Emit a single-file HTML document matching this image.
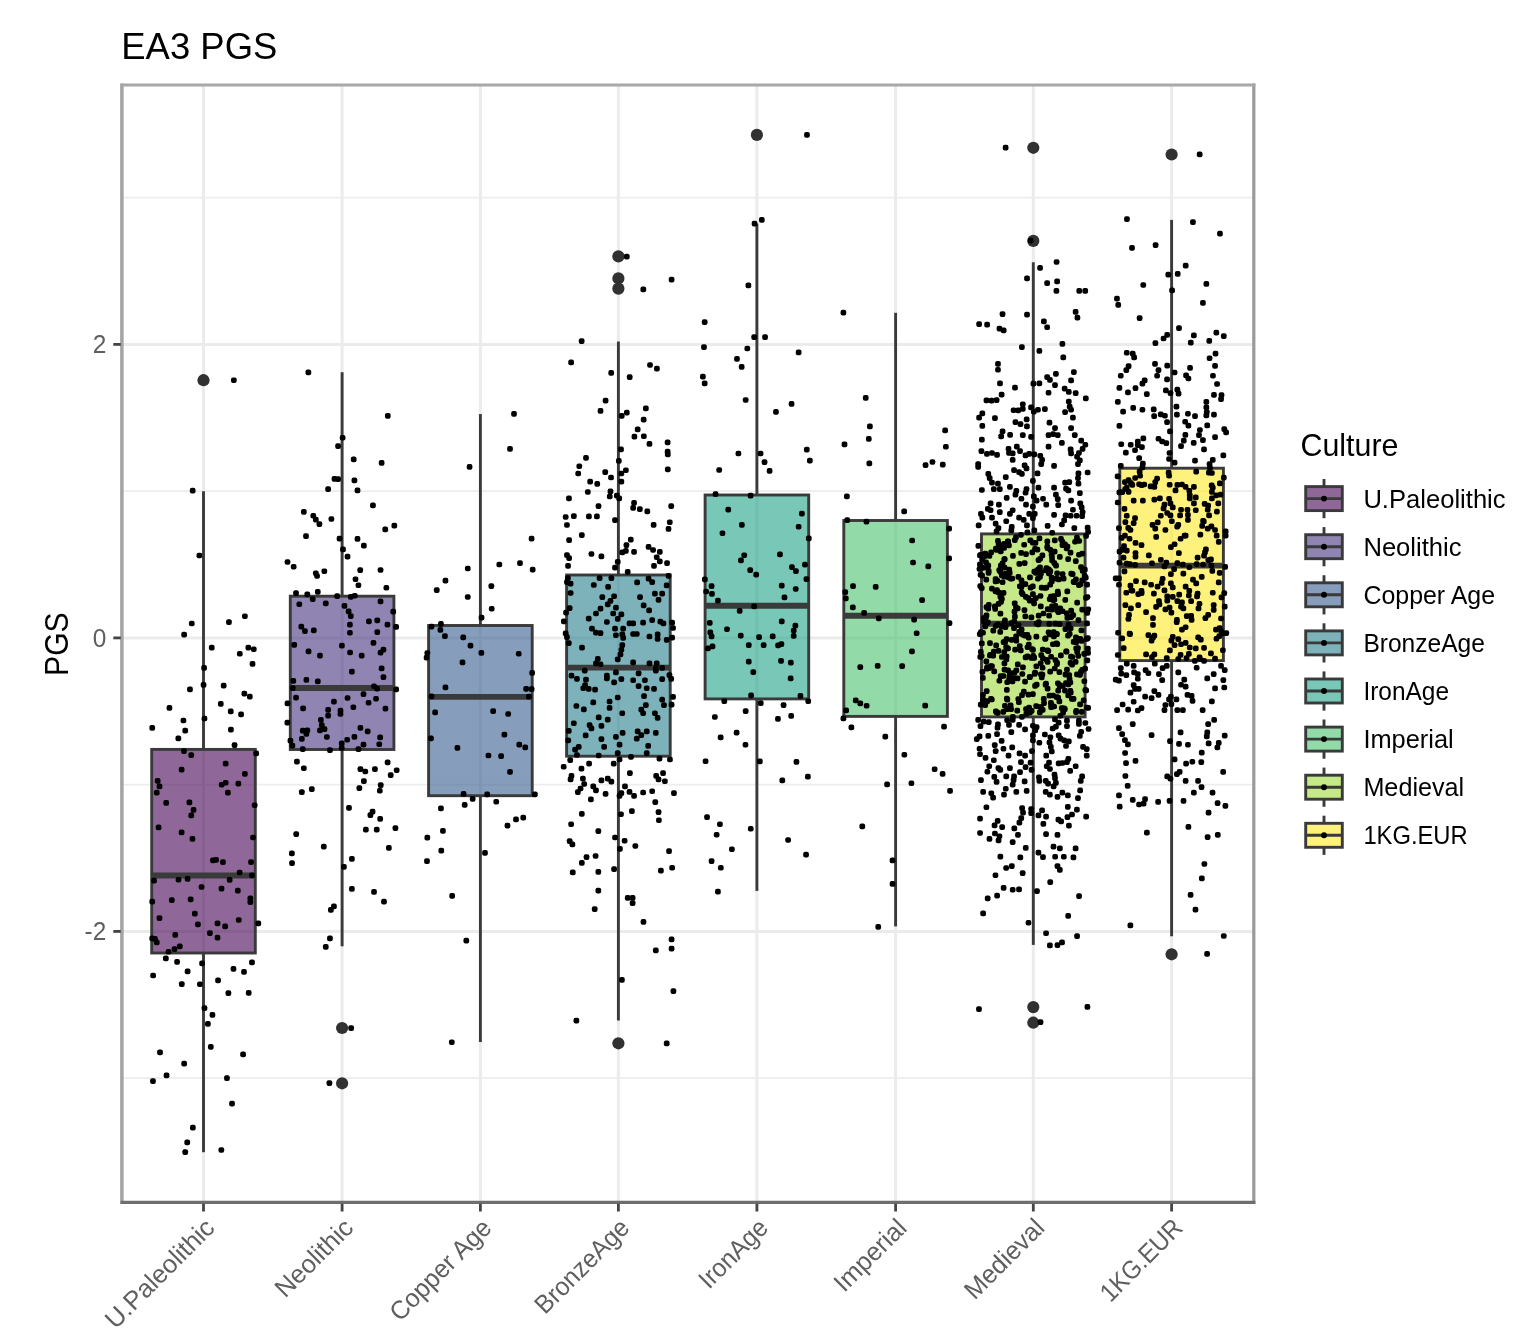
<!DOCTYPE html>
<html lang="en"><head><meta charset="utf-8"><title>EA3 PGS</title>
<style>html,body{margin:0;padding:0;background:#fff}svg{display:block}text{font-family:"Liberation Sans",Arial,Helvetica,sans-serif}</style>
</head><body>
<svg width="1522" height="1342" viewBox="0 0 1522 1342">
<rect width="1522" height="1342" fill="#fff"/>
<text x="121.3" y="59.4" font-size="37.6" fill="#000" textLength="156" lengthAdjust="spacingAndGlyphs">EA3 PGS</text>
<g stroke="#EDEDED" stroke-width="1.7">
<line x1="122.2" x2="1253.8" y1="197.6" y2="197.6"/>
<line x1="122.2" x2="1253.8" y1="491.1" y2="491.1"/>
<line x1="122.2" x2="1253.8" y1="784.6" y2="784.6"/>
<line x1="122.2" x2="1253.8" y1="1078.2" y2="1078.2"/>
</g>
<g stroke="#EBEBEB" stroke-width="3">
<line x1="122.2" x2="1253.8" y1="344.4" y2="344.4"/>
<line x1="122.2" x2="1253.8" y1="637.9" y2="637.9"/>
<line x1="122.2" x2="1253.8" y1="931.4" y2="931.4"/>
<line x1="203.5" x2="203.5" y1="85.0" y2="1202.4"/>
<line x1="342.1" x2="342.1" y1="85.0" y2="1202.4"/>
<line x1="480.4" x2="480.4" y1="85.0" y2="1202.4"/>
<line x1="618.4" x2="618.4" y1="85.0" y2="1202.4"/>
<line x1="756.9" x2="756.9" y1="85.0" y2="1202.4"/>
<line x1="895.6" x2="895.6" y1="85.0" y2="1202.4"/>
<line x1="1033.3" x2="1033.3" y1="85.0" y2="1202.4"/>
<line x1="1171.6" x2="1171.6" y1="85.0" y2="1202.4"/>
</g>
<g stroke="#3A3A3A" stroke-width="2.9" fill="none">
<circle cx="203.5" cy="380.2" r="6.1" fill="#313131" stroke="none"/>
<line x1="203.5" x2="203.5" y1="491.3" y2="749.4"/>
<line x1="203.5" x2="203.5" y1="953.0" y2="1152.2"/>
<rect x="151.7" y="749.4" width="103.6" height="203.6" fill="#440154" fill-opacity="0.6"/>
<line x1="151.7" x2="255.3" y1="875.5" y2="875.5" stroke-width="5.9"/>
</g>
<g stroke="#3A3A3A" stroke-width="2.9" fill="none">
<circle cx="342.1" cy="1028.0" r="6.1" fill="#313131" stroke="none"/>
<circle cx="342.1" cy="1083.3" r="6.1" fill="#313131" stroke="none"/>
<line x1="342.1" x2="342.1" y1="372.2" y2="596.2"/>
<line x1="342.1" x2="342.1" y1="749.5" y2="946.3"/>
<rect x="290.3" y="596.2" width="103.6" height="153.3" fill="#46337E" fill-opacity="0.6"/>
<line x1="290.3" x2="393.9" y1="688.0" y2="688.0" stroke-width="5.9"/>
</g>
<g stroke="#3A3A3A" stroke-width="2.9" fill="none">
<line x1="480.4" x2="480.4" y1="414.1" y2="625.5"/>
<line x1="480.4" x2="480.4" y1="795.7" y2="1042.0"/>
<rect x="428.6" y="625.5" width="103.6" height="170.2" fill="#365C8D" fill-opacity="0.6"/>
<line x1="428.6" x2="532.2" y1="696.9" y2="696.9" stroke-width="5.9"/>
</g>
<g stroke="#3A3A3A" stroke-width="2.9" fill="none">
<circle cx="618.4" cy="256.4" r="6.1" fill="#313131" stroke="none"/>
<circle cx="618.4" cy="278.4" r="6.1" fill="#313131" stroke="none"/>
<circle cx="618.4" cy="288.6" r="6.1" fill="#313131" stroke="none"/>
<circle cx="618.4" cy="1043.3" r="6.1" fill="#313131" stroke="none"/>
<line x1="618.4" x2="618.4" y1="341.5" y2="575.0"/>
<line x1="618.4" x2="618.4" y1="756.2" y2="1020.5"/>
<rect x="566.6" y="575.0" width="103.6" height="181.2" fill="#277F8E" fill-opacity="0.6"/>
<line x1="566.6" x2="670.2" y1="667.6" y2="667.6" stroke-width="5.9"/>
</g>
<g stroke="#3A3A3A" stroke-width="2.9" fill="none">
<circle cx="756.9" cy="134.9" r="6.1" fill="#313131" stroke="none"/>
<line x1="756.9" x2="756.9" y1="223.4" y2="495.0"/>
<line x1="756.9" x2="756.9" y1="698.9" y2="890.9"/>
<rect x="705.1" y="495.0" width="103.6" height="203.9" fill="#1FA187" fill-opacity="0.6"/>
<line x1="705.1" x2="808.7" y1="605.8" y2="605.8" stroke-width="5.9"/>
</g>
<g stroke="#3A3A3A" stroke-width="2.9" fill="none">
<line x1="895.6" x2="895.6" y1="312.8" y2="520.5"/>
<line x1="895.6" x2="895.6" y1="716.4" y2="926.4"/>
<rect x="843.8" y="520.5" width="103.6" height="195.9" fill="#4AC16D" fill-opacity="0.6"/>
<line x1="843.8" x2="947.4" y1="615.7" y2="615.7" stroke-width="5.9"/>
</g>
<g stroke="#3A3A3A" stroke-width="2.9" fill="none">
<circle cx="1033.3" cy="147.8" r="6.1" fill="#313131" stroke="none"/>
<circle cx="1033.3" cy="240.9" r="6.1" fill="#313131" stroke="none"/>
<circle cx="1033.3" cy="1007.1" r="6.1" fill="#313131" stroke="none"/>
<circle cx="1033.3" cy="1022.7" r="6.1" fill="#313131" stroke="none"/>
<line x1="1033.3" x2="1033.3" y1="262.3" y2="533.9"/>
<line x1="1033.3" x2="1033.3" y1="716.9" y2="944.9"/>
<rect x="981.5" y="533.9" width="103.6" height="183.0" fill="#9FDA3A" fill-opacity="0.6"/>
<line x1="981.5" x2="1085.1" y1="623.8" y2="623.8" stroke-width="5.9"/>
</g>
<g stroke="#3A3A3A" stroke-width="2.9" fill="none">
<circle cx="1171.6" cy="154.5" r="6.1" fill="#313131" stroke="none"/>
<circle cx="1171.6" cy="954.3" r="6.1" fill="#313131" stroke="none"/>
<line x1="1171.6" x2="1171.6" y1="219.9" y2="468.2"/>
<line x1="1171.6" x2="1171.6" y1="660.6" y2="936.3"/>
<rect x="1119.8" y="468.2" width="103.6" height="192.4" fill="#FDE725" fill-opacity="0.6"/>
<line x1="1119.8" x2="1223.4" y1="565.6" y2="565.6" stroke-width="5.9"/>
</g>
<g fill="#000">
<rect x="1077.11" y="672.15" width="5.7" height="5.7" rx="2"/><rect x="1040.06" y="655.53" width="5.7" height="5.7" rx="2"/><rect x="1044.74" y="685.77" width="5.7" height="5.7" rx="2"/><rect x="1008.82" y="637.03" width="5.7" height="5.7" rx="2"/><rect x="985.42" y="562.84" width="5.7" height="5.7" rx="2"/><rect x="980.06" y="697.28" width="5.7" height="5.7" rx="2"/><rect x="1047.38" y="581.79" width="5.7" height="5.7" rx="2"/><rect x="977.10" y="561.59" width="5.7" height="5.7" rx="2"/>
<rect x="1033.57" y="568.24" width="5.7" height="5.7" rx="2"/><rect x="1002.06" y="702.94" width="5.7" height="5.7" rx="2"/><rect x="978.76" y="653.14" width="5.7" height="5.7" rx="2"/><rect x="1068.12" y="653.78" width="5.7" height="5.7" rx="2"/><rect x="1030.43" y="597.71" width="5.7" height="5.7" rx="2"/><rect x="1006.05" y="542.57" width="5.7" height="5.7" rx="2"/><rect x="1067.87" y="614.36" width="5.7" height="5.7" rx="2"/><rect x="1000.71" y="590.03" width="5.7" height="5.7" rx="2"/>
<rect x="1059.74" y="608.38" width="5.7" height="5.7" rx="2"/><rect x="1019.49" y="671.15" width="5.7" height="5.7" rx="2"/><rect x="1080.83" y="697.39" width="5.7" height="5.7" rx="2"/><rect x="998.52" y="623.52" width="5.7" height="5.7" rx="2"/><rect x="1075.58" y="617.28" width="5.7" height="5.7" rx="2"/><rect x="1019.17" y="692.22" width="5.7" height="5.7" rx="2"/><rect x="1061.09" y="705.59" width="5.7" height="5.7" rx="2"/><rect x="1012.03" y="613.77" width="5.7" height="5.7" rx="2"/>
<rect x="1081.50" y="678.41" width="5.7" height="5.7" rx="2"/><rect x="1002.55" y="624.38" width="5.7" height="5.7" rx="2"/><rect x="986.57" y="553.09" width="5.7" height="5.7" rx="2"/><rect x="994.99" y="709.95" width="5.7" height="5.7" rx="2"/><rect x="996.43" y="567.19" width="5.7" height="5.7" rx="2"/><rect x="1046.26" y="612.79" width="5.7" height="5.7" rx="2"/><rect x="988.27" y="549.57" width="5.7" height="5.7" rx="2"/><rect x="1005.13" y="538.52" width="5.7" height="5.7" rx="2"/>
<rect x="1082.25" y="665.76" width="5.7" height="5.7" rx="2"/><rect x="1072.79" y="658.98" width="5.7" height="5.7" rx="2"/><rect x="1069.43" y="654.13" width="5.7" height="5.7" rx="2"/><rect x="1084.27" y="581.76" width="5.7" height="5.7" rx="2"/><rect x="998.91" y="572.45" width="5.7" height="5.7" rx="2"/><rect x="1011.64" y="608.82" width="5.7" height="5.7" rx="2"/><rect x="985.36" y="605.76" width="5.7" height="5.7" rx="2"/><rect x="1039.55" y="671.67" width="5.7" height="5.7" rx="2"/>
<rect x="1016.34" y="629.02" width="5.7" height="5.7" rx="2"/><rect x="1070.77" y="639.05" width="5.7" height="5.7" rx="2"/><rect x="1075.38" y="653.09" width="5.7" height="5.7" rx="2"/><rect x="1065.41" y="692.52" width="5.7" height="5.7" rx="2"/><rect x="1056.79" y="621.23" width="5.7" height="5.7" rx="2"/><rect x="1078.89" y="708.93" width="5.7" height="5.7" rx="2"/><rect x="979.71" y="565.03" width="5.7" height="5.7" rx="2"/><rect x="1081.34" y="651.03" width="5.7" height="5.7" rx="2"/>
<rect x="1003.72" y="636.36" width="5.7" height="5.7" rx="2"/><rect x="1007.73" y="702.57" width="5.7" height="5.7" rx="2"/><rect x="1036.98" y="709.62" width="5.7" height="5.7" rx="2"/><rect x="1069.21" y="661.85" width="5.7" height="5.7" rx="2"/><rect x="1076.36" y="538.15" width="5.7" height="5.7" rx="2"/><rect x="997.89" y="548.59" width="5.7" height="5.7" rx="2"/><rect x="1024.48" y="632.11" width="5.7" height="5.7" rx="2"/><rect x="1016.02" y="699.37" width="5.7" height="5.7" rx="2"/>
<rect x="1038.39" y="652.26" width="5.7" height="5.7" rx="2"/><rect x="1073.45" y="708.04" width="5.7" height="5.7" rx="2"/><rect x="1051.48" y="596.70" width="5.7" height="5.7" rx="2"/><rect x="979.31" y="556.63" width="5.7" height="5.7" rx="2"/><rect x="977.42" y="583.21" width="5.7" height="5.7" rx="2"/><rect x="1045.43" y="648.30" width="5.7" height="5.7" rx="2"/><rect x="1028.50" y="614.43" width="5.7" height="5.7" rx="2"/><rect x="1085.38" y="606.42" width="5.7" height="5.7" rx="2"/>
<rect x="1056.52" y="698.58" width="5.7" height="5.7" rx="2"/><rect x="1076.10" y="551.88" width="5.7" height="5.7" rx="2"/><rect x="1055.55" y="609.24" width="5.7" height="5.7" rx="2"/><rect x="1067.67" y="549.78" width="5.7" height="5.7" rx="2"/><rect x="1028.36" y="655.17" width="5.7" height="5.7" rx="2"/><rect x="1030.15" y="646.97" width="5.7" height="5.7" rx="2"/><rect x="1008.56" y="620.20" width="5.7" height="5.7" rx="2"/><rect x="1050.05" y="641.39" width="5.7" height="5.7" rx="2"/>
<rect x="1075.08" y="645.22" width="5.7" height="5.7" rx="2"/><rect x="1048.05" y="699.98" width="5.7" height="5.7" rx="2"/><rect x="1064.11" y="666.73" width="5.7" height="5.7" rx="2"/><rect x="1030.06" y="591.18" width="5.7" height="5.7" rx="2"/><rect x="1067.53" y="688.01" width="5.7" height="5.7" rx="2"/><rect x="994.05" y="587.22" width="5.7" height="5.7" rx="2"/><rect x="999.00" y="654.14" width="5.7" height="5.7" rx="2"/><rect x="1067.75" y="625.49" width="5.7" height="5.7" rx="2"/>
<rect x="983.66" y="604.19" width="5.7" height="5.7" rx="2"/><rect x="980.01" y="675.08" width="5.7" height="5.7" rx="2"/><rect x="1009.44" y="575.64" width="5.7" height="5.7" rx="2"/><rect x="990.40" y="627.82" width="5.7" height="5.7" rx="2"/><rect x="1025.48" y="595.21" width="5.7" height="5.7" rx="2"/><rect x="1001.56" y="660.43" width="5.7" height="5.7" rx="2"/><rect x="1044.66" y="647.57" width="5.7" height="5.7" rx="2"/><rect x="1024.56" y="653.50" width="5.7" height="5.7" rx="2"/>
<rect x="1027.72" y="584.78" width="5.7" height="5.7" rx="2"/><rect x="995.11" y="538.08" width="5.7" height="5.7" rx="2"/><rect x="1054.01" y="631.31" width="5.7" height="5.7" rx="2"/><rect x="1013.48" y="667.54" width="5.7" height="5.7" rx="2"/><rect x="1043.04" y="567.52" width="5.7" height="5.7" rx="2"/><rect x="1062.56" y="626.24" width="5.7" height="5.7" rx="2"/><rect x="1078.04" y="669.11" width="5.7" height="5.7" rx="2"/><rect x="1054.91" y="588.76" width="5.7" height="5.7" rx="2"/>
<rect x="1047.10" y="569.01" width="5.7" height="5.7" rx="2"/><rect x="1065.47" y="681.62" width="5.7" height="5.7" rx="2"/><rect x="1083.30" y="687.46" width="5.7" height="5.7" rx="2"/><rect x="1062.44" y="597.09" width="5.7" height="5.7" rx="2"/><rect x="984.55" y="698.37" width="5.7" height="5.7" rx="2"/><rect x="1059.96" y="683.16" width="5.7" height="5.7" rx="2"/><rect x="1064.46" y="588.49" width="5.7" height="5.7" rx="2"/><rect x="982.50" y="623.52" width="5.7" height="5.7" rx="2"/>
<rect x="1012.30" y="646.70" width="5.7" height="5.7" rx="2"/><rect x="1062.12" y="541.47" width="5.7" height="5.7" rx="2"/><rect x="1032.27" y="669.81" width="5.7" height="5.7" rx="2"/><rect x="1055.04" y="680.38" width="5.7" height="5.7" rx="2"/><rect x="1079.86" y="568.14" width="5.7" height="5.7" rx="2"/><rect x="1033.38" y="703.21" width="5.7" height="5.7" rx="2"/><rect x="1007.37" y="670.32" width="5.7" height="5.7" rx="2"/><rect x="1032.96" y="595.30" width="5.7" height="5.7" rx="2"/>
<rect x="1068.43" y="570.73" width="5.7" height="5.7" rx="2"/><rect x="1069.03" y="696.10" width="5.7" height="5.7" rx="2"/><rect x="1081.98" y="566.73" width="5.7" height="5.7" rx="2"/><rect x="997.56" y="594.13" width="5.7" height="5.7" rx="2"/><rect x="1042.03" y="585.07" width="5.7" height="5.7" rx="2"/><rect x="1032.21" y="683.08" width="5.7" height="5.7" rx="2"/><rect x="1051.46" y="560.30" width="5.7" height="5.7" rx="2"/><rect x="1020.97" y="688.82" width="5.7" height="5.7" rx="2"/>
<rect x="1005.06" y="538.66" width="5.7" height="5.7" rx="2"/><rect x="1023.15" y="551.29" width="5.7" height="5.7" rx="2"/><rect x="1065.18" y="632.81" width="5.7" height="5.7" rx="2"/><rect x="1043.42" y="584.72" width="5.7" height="5.7" rx="2"/><rect x="1077.23" y="701.59" width="5.7" height="5.7" rx="2"/><rect x="1000.45" y="709.12" width="5.7" height="5.7" rx="2"/><rect x="1051.02" y="633.66" width="5.7" height="5.7" rx="2"/><rect x="1043.62" y="565.35" width="5.7" height="5.7" rx="2"/>
<rect x="1033.79" y="620.64" width="5.7" height="5.7" rx="2"/><rect x="1023.50" y="710.96" width="5.7" height="5.7" rx="2"/><rect x="997.92" y="542.31" width="5.7" height="5.7" rx="2"/><rect x="1044.89" y="606.28" width="5.7" height="5.7" rx="2"/><rect x="1056.93" y="682.30" width="5.7" height="5.7" rx="2"/><rect x="1064.61" y="543.65" width="5.7" height="5.7" rx="2"/><rect x="1010.10" y="553.12" width="5.7" height="5.7" rx="2"/><rect x="1085.27" y="705.10" width="5.7" height="5.7" rx="2"/>
<rect x="1073.08" y="576.58" width="5.7" height="5.7" rx="2"/><rect x="1055.37" y="687.79" width="5.7" height="5.7" rx="2"/><rect x="1003.99" y="695.74" width="5.7" height="5.7" rx="2"/><rect x="997.55" y="610.79" width="5.7" height="5.7" rx="2"/><rect x="1050.51" y="597.38" width="5.7" height="5.7" rx="2"/><rect x="1050.88" y="629.16" width="5.7" height="5.7" rx="2"/><rect x="987.13" y="640.35" width="5.7" height="5.7" rx="2"/><rect x="979.57" y="669.06" width="5.7" height="5.7" rx="2"/>
<rect x="1038.01" y="568.93" width="5.7" height="5.7" rx="2"/><rect x="997.88" y="673.37" width="5.7" height="5.7" rx="2"/><rect x="1067.87" y="689.90" width="5.7" height="5.7" rx="2"/><rect x="985.93" y="602.06" width="5.7" height="5.7" rx="2"/><rect x="1011.40" y="675.41" width="5.7" height="5.7" rx="2"/><rect x="1022.76" y="654.59" width="5.7" height="5.7" rx="2"/><rect x="1052.56" y="603.11" width="5.7" height="5.7" rx="2"/><rect x="1068.32" y="607.83" width="5.7" height="5.7" rx="2"/>
<rect x="1056.78" y="683.38" width="5.7" height="5.7" rx="2"/><rect x="993.61" y="546.96" width="5.7" height="5.7" rx="2"/><rect x="1031.83" y="671.03" width="5.7" height="5.7" rx="2"/><rect x="1063.64" y="648.69" width="5.7" height="5.7" rx="2"/><rect x="1044.68" y="545.30" width="5.7" height="5.7" rx="2"/><rect x="1063.98" y="610.54" width="5.7" height="5.7" rx="2"/><rect x="1057.34" y="605.46" width="5.7" height="5.7" rx="2"/><rect x="1020.07" y="664.51" width="5.7" height="5.7" rx="2"/>
<rect x="1059.63" y="542.24" width="5.7" height="5.7" rx="2"/><rect x="1027.02" y="674.14" width="5.7" height="5.7" rx="2"/><rect x="1045.71" y="629.41" width="5.7" height="5.7" rx="2"/><rect x="1079.36" y="550.84" width="5.7" height="5.7" rx="2"/><rect x="1048.72" y="551.69" width="5.7" height="5.7" rx="2"/><rect x="1018.31" y="550.10" width="5.7" height="5.7" rx="2"/><rect x="1052.59" y="620.81" width="5.7" height="5.7" rx="2"/><rect x="977.96" y="648.92" width="5.7" height="5.7" rx="2"/>
<rect x="981.00" y="615.22" width="5.7" height="5.7" rx="2"/><rect x="986.28" y="665.19" width="5.7" height="5.7" rx="2"/><rect x="1035.96" y="619.31" width="5.7" height="5.7" rx="2"/><rect x="1037.93" y="603.54" width="5.7" height="5.7" rx="2"/><rect x="1064.50" y="615.01" width="5.7" height="5.7" rx="2"/><rect x="1058.97" y="705.23" width="5.7" height="5.7" rx="2"/><rect x="993.04" y="708.45" width="5.7" height="5.7" rx="2"/><rect x="1029.96" y="539.70" width="5.7" height="5.7" rx="2"/>
<rect x="1042.68" y="635.52" width="5.7" height="5.7" rx="2"/><rect x="1041.21" y="700.22" width="5.7" height="5.7" rx="2"/><rect x="1047.51" y="547.08" width="5.7" height="5.7" rx="2"/><rect x="1037.12" y="704.13" width="5.7" height="5.7" rx="2"/><rect x="1008.01" y="575.92" width="5.7" height="5.7" rx="2"/><rect x="980.16" y="629.89" width="5.7" height="5.7" rx="2"/><rect x="1084.21" y="620.50" width="5.7" height="5.7" rx="2"/><rect x="1079.34" y="577.45" width="5.7" height="5.7" rx="2"/>
<rect x="1082.50" y="687.17" width="5.7" height="5.7" rx="2"/><rect x="1078.55" y="627.47" width="5.7" height="5.7" rx="2"/><rect x="1083.12" y="594.97" width="5.7" height="5.7" rx="2"/><rect x="988.11" y="696.01" width="5.7" height="5.7" rx="2"/><rect x="1033.54" y="633.68" width="5.7" height="5.7" rx="2"/><rect x="989.13" y="663.42" width="5.7" height="5.7" rx="2"/><rect x="1025.56" y="691.69" width="5.7" height="5.7" rx="2"/><rect x="1021.60" y="607.31" width="5.7" height="5.7" rx="2"/>
<rect x="1085.19" y="650.11" width="5.7" height="5.7" rx="2"/><rect x="1001.68" y="556.21" width="5.7" height="5.7" rx="2"/><rect x="1014.96" y="661.57" width="5.7" height="5.7" rx="2"/><rect x="1037.59" y="593.17" width="5.7" height="5.7" rx="2"/><rect x="1002.84" y="622.80" width="5.7" height="5.7" rx="2"/><rect x="1083.22" y="532.99" width="5.7" height="5.7" rx="2"/><rect x="1005.25" y="667.50" width="5.7" height="5.7" rx="2"/><rect x="1022.22" y="632.75" width="5.7" height="5.7" rx="2"/>
<rect x="1035.03" y="575.90" width="5.7" height="5.7" rx="2"/><rect x="983.42" y="576.83" width="5.7" height="5.7" rx="2"/><rect x="1016.50" y="561.05" width="5.7" height="5.7" rx="2"/><rect x="1013.26" y="633.48" width="5.7" height="5.7" rx="2"/><rect x="983.63" y="612.53" width="5.7" height="5.7" rx="2"/><rect x="1003.84" y="653.64" width="5.7" height="5.7" rx="2"/><rect x="1047.35" y="668.76" width="5.7" height="5.7" rx="2"/><rect x="1035.80" y="612.78" width="5.7" height="5.7" rx="2"/>
<rect x="1022.49" y="613.48" width="5.7" height="5.7" rx="2"/><rect x="1071.72" y="579.22" width="5.7" height="5.7" rx="2"/><rect x="984.09" y="665.80" width="5.7" height="5.7" rx="2"/><rect x="1028.78" y="708.04" width="5.7" height="5.7" rx="2"/><rect x="1060.76" y="575.78" width="5.7" height="5.7" rx="2"/><rect x="1048.28" y="704.34" width="5.7" height="5.7" rx="2"/><rect x="984.44" y="664.15" width="5.7" height="5.7" rx="2"/><rect x="1051.79" y="548.68" width="5.7" height="5.7" rx="2"/>
<rect x="1014.81" y="605.49" width="5.7" height="5.7" rx="2"/><rect x="1055.31" y="694.65" width="5.7" height="5.7" rx="2"/><rect x="1053.47" y="575.69" width="5.7" height="5.7" rx="2"/><rect x="1038.07" y="671.39" width="5.7" height="5.7" rx="2"/><rect x="1063.79" y="545.57" width="5.7" height="5.7" rx="2"/><rect x="1019.41" y="580.96" width="5.7" height="5.7" rx="2"/><rect x="1015.66" y="622.32" width="5.7" height="5.7" rx="2"/><rect x="1018.08" y="532.05" width="5.7" height="5.7" rx="2"/>
<rect x="1063.13" y="680.16" width="5.7" height="5.7" rx="2"/><rect x="1037.36" y="555.90" width="5.7" height="5.7" rx="2"/><rect x="977.90" y="701.74" width="5.7" height="5.7" rx="2"/><rect x="1032.17" y="545.93" width="5.7" height="5.7" rx="2"/><rect x="1081.76" y="572.87" width="5.7" height="5.7" rx="2"/><rect x="1062.14" y="687.78" width="5.7" height="5.7" rx="2"/><rect x="1056.53" y="669.30" width="5.7" height="5.7" rx="2"/><rect x="1074.35" y="649.15" width="5.7" height="5.7" rx="2"/>
<rect x="999.70" y="560.62" width="5.7" height="5.7" rx="2"/><rect x="1059.64" y="538.99" width="5.7" height="5.7" rx="2"/><rect x="1018.83" y="589.81" width="5.7" height="5.7" rx="2"/><rect x="1034.56" y="546.82" width="5.7" height="5.7" rx="2"/><rect x="1076.10" y="582.30" width="5.7" height="5.7" rx="2"/><rect x="1073.20" y="709.35" width="5.7" height="5.7" rx="2"/><rect x="1033.07" y="570.12" width="5.7" height="5.7" rx="2"/><rect x="1021.83" y="560.36" width="5.7" height="5.7" rx="2"/>
<rect x="1056.99" y="554.04" width="5.7" height="5.7" rx="2"/><rect x="1084.46" y="657.49" width="5.7" height="5.7" rx="2"/><rect x="997.93" y="562.67" width="5.7" height="5.7" rx="2"/><rect x="1022.19" y="678.85" width="5.7" height="5.7" rx="2"/><rect x="988.08" y="663.28" width="5.7" height="5.7" rx="2"/><rect x="1025.91" y="641.82" width="5.7" height="5.7" rx="2"/><rect x="1039.70" y="664.90" width="5.7" height="5.7" rx="2"/><rect x="987.40" y="652.03" width="5.7" height="5.7" rx="2"/>
<rect x="995.75" y="601.03" width="5.7" height="5.7" rx="2"/><rect x="1054.35" y="641.18" width="5.7" height="5.7" rx="2"/><rect x="995.80" y="541.01" width="5.7" height="5.7" rx="2"/><rect x="1006.37" y="566.78" width="5.7" height="5.7" rx="2"/><rect x="1065.33" y="556.30" width="5.7" height="5.7" rx="2"/><rect x="1073.07" y="634.49" width="5.7" height="5.7" rx="2"/><rect x="1035.66" y="557.29" width="5.7" height="5.7" rx="2"/><rect x="999.76" y="579.42" width="5.7" height="5.7" rx="2"/>
<rect x="1033.48" y="663.40" width="5.7" height="5.7" rx="2"/><rect x="1084.38" y="610.17" width="5.7" height="5.7" rx="2"/><rect x="976.65" y="566.14" width="5.7" height="5.7" rx="2"/><rect x="1027.44" y="537.45" width="5.7" height="5.7" rx="2"/><rect x="992.75" y="578.63" width="5.7" height="5.7" rx="2"/><rect x="1003.99" y="686.93" width="5.7" height="5.7" rx="2"/><rect x="992.02" y="603.58" width="5.7" height="5.7" rx="2"/><rect x="1065.81" y="621.86" width="5.7" height="5.7" rx="2"/>
<rect x="1068.53" y="613.92" width="5.7" height="5.7" rx="2"/><rect x="1005.14" y="645.56" width="5.7" height="5.7" rx="2"/><rect x="1054.27" y="570.38" width="5.7" height="5.7" rx="2"/><rect x="1027.00" y="709.87" width="5.7" height="5.7" rx="2"/><rect x="1069.76" y="571.20" width="5.7" height="5.7" rx="2"/><rect x="1021.32" y="541.88" width="5.7" height="5.7" rx="2"/><rect x="1066.35" y="672.25" width="5.7" height="5.7" rx="2"/><rect x="998.37" y="591.37" width="5.7" height="5.7" rx="2"/>
<rect x="992.78" y="576.37" width="5.7" height="5.7" rx="2"/><rect x="1009.63" y="678.67" width="5.7" height="5.7" rx="2"/><rect x="1026.84" y="674.20" width="5.7" height="5.7" rx="2"/><rect x="1051.03" y="593.13" width="5.7" height="5.7" rx="2"/><rect x="1026.24" y="704.67" width="5.7" height="5.7" rx="2"/><rect x="1047.38" y="568.28" width="5.7" height="5.7" rx="2"/><rect x="1053.55" y="631.18" width="5.7" height="5.7" rx="2"/><rect x="1025.84" y="634.68" width="5.7" height="5.7" rx="2"/>
<rect x="1063.39" y="648.52" width="5.7" height="5.7" rx="2"/><rect x="1007.39" y="671.33" width="5.7" height="5.7" rx="2"/><rect x="1018.59" y="584.25" width="5.7" height="5.7" rx="2"/><rect x="997.44" y="568.77" width="5.7" height="5.7" rx="2"/><rect x="1079.40" y="606.85" width="5.7" height="5.7" rx="2"/><rect x="1011.93" y="537.32" width="5.7" height="5.7" rx="2"/><rect x="990.94" y="648.67" width="5.7" height="5.7" rx="2"/><rect x="985.83" y="568.11" width="5.7" height="5.7" rx="2"/>
<rect x="1067.51" y="679.63" width="5.7" height="5.7" rx="2"/><rect x="1000.37" y="571.75" width="5.7" height="5.7" rx="2"/><rect x="992.73" y="588.52" width="5.7" height="5.7" rx="2"/><rect x="1046.65" y="692.81" width="5.7" height="5.7" rx="2"/><rect x="1017.90" y="647.55" width="5.7" height="5.7" rx="2"/><rect x="977.15" y="552.53" width="5.7" height="5.7" rx="2"/><rect x="1048.08" y="593.85" width="5.7" height="5.7" rx="2"/><rect x="1011.86" y="600.59" width="5.7" height="5.7" rx="2"/>
<rect x="1013.10" y="604.41" width="5.7" height="5.7" rx="2"/><rect x="1016.99" y="583.40" width="5.7" height="5.7" rx="2"/><rect x="1031.48" y="568.77" width="5.7" height="5.7" rx="2"/><rect x="1042.71" y="681.70" width="5.7" height="5.7" rx="2"/><rect x="1054.14" y="607.39" width="5.7" height="5.7" rx="2"/><rect x="1079.39" y="666.95" width="5.7" height="5.7" rx="2"/><rect x="1044.43" y="543.74" width="5.7" height="5.7" rx="2"/><rect x="1002.36" y="639.13" width="5.7" height="5.7" rx="2"/>
<rect x="1038.86" y="674.48" width="5.7" height="5.7" rx="2"/><rect x="1077.65" y="581.41" width="5.7" height="5.7" rx="2"/><rect x="1037.09" y="574.08" width="5.7" height="5.7" rx="2"/><rect x="1084.58" y="594.16" width="5.7" height="5.7" rx="2"/><rect x="988.94" y="696.66" width="5.7" height="5.7" rx="2"/><rect x="1074.12" y="671.53" width="5.7" height="5.7" rx="2"/><rect x="1066.83" y="631.11" width="5.7" height="5.7" rx="2"/><rect x="983.84" y="688.24" width="5.7" height="5.7" rx="2"/>
<rect x="1084.02" y="704.67" width="5.7" height="5.7" rx="2"/><rect x="1078.79" y="638.03" width="5.7" height="5.7" rx="2"/><rect x="1049.29" y="557.64" width="5.7" height="5.7" rx="2"/><rect x="1040.56" y="610.67" width="5.7" height="5.7" rx="2"/><rect x="997.40" y="629.12" width="5.7" height="5.7" rx="2"/><rect x="1026.93" y="597.72" width="5.7" height="5.7" rx="2"/><rect x="1038.10" y="704.42" width="5.7" height="5.7" rx="2"/><rect x="1004.45" y="696.72" width="5.7" height="5.7" rx="2"/>
<rect x="1046.04" y="570.44" width="5.7" height="5.7" rx="2"/><rect x="991.37" y="668.60" width="5.7" height="5.7" rx="2"/><rect x="1027.14" y="574.55" width="5.7" height="5.7" rx="2"/><rect x="1058.14" y="535.94" width="5.7" height="5.7" rx="2"/><rect x="1067.66" y="660.03" width="5.7" height="5.7" rx="2"/><rect x="1023.19" y="706.22" width="5.7" height="5.7" rx="2"/><rect x="1022.99" y="594.07" width="5.7" height="5.7" rx="2"/><rect x="981.46" y="553.48" width="5.7" height="5.7" rx="2"/>
<rect x="1055.97" y="576.47" width="5.7" height="5.7" rx="2"/><rect x="983.13" y="559.59" width="5.7" height="5.7" rx="2"/><rect x="981.17" y="618.69" width="5.7" height="5.7" rx="2"/><rect x="1001.76" y="564.71" width="5.7" height="5.7" rx="2"/><rect x="1001.40" y="573.82" width="5.7" height="5.7" rx="2"/><rect x="1070.76" y="578.98" width="5.7" height="5.7" rx="2"/><rect x="1037.80" y="660.58" width="5.7" height="5.7" rx="2"/><rect x="1062.61" y="671.69" width="5.7" height="5.7" rx="2"/>
<rect x="989.07" y="585.72" width="5.7" height="5.7" rx="2"/><rect x="975.51" y="543.03" width="5.7" height="5.7" rx="2"/><rect x="1011.17" y="625.31" width="5.7" height="5.7" rx="2"/><rect x="1014.66" y="675.49" width="5.7" height="5.7" rx="2"/><rect x="978.87" y="585.24" width="5.7" height="5.7" rx="2"/><rect x="1074.29" y="599.68" width="5.7" height="5.7" rx="2"/><rect x="1078.18" y="564.32" width="5.7" height="5.7" rx="2"/><rect x="998.17" y="599.13" width="5.7" height="5.7" rx="2"/>
<rect x="1074.10" y="534.71" width="5.7" height="5.7" rx="2"/><rect x="1014.41" y="707.80" width="5.7" height="5.7" rx="2"/><rect x="1072.22" y="538.91" width="5.7" height="5.7" rx="2"/><rect x="1084.94" y="635.27" width="5.7" height="5.7" rx="2"/><rect x="996.52" y="677.92" width="5.7" height="5.7" rx="2"/><rect x="987.12" y="652.64" width="5.7" height="5.7" rx="2"/><rect x="1055.29" y="591.25" width="5.7" height="5.7" rx="2"/><rect x="984.14" y="564.89" width="5.7" height="5.7" rx="2"/>
<rect x="1053.61" y="640.39" width="5.7" height="5.7" rx="2"/><rect x="1001.35" y="649.23" width="5.7" height="5.7" rx="2"/><rect x="1048.56" y="701.84" width="5.7" height="5.7" rx="2"/><rect x="1048.27" y="653.90" width="5.7" height="5.7" rx="2"/><rect x="1077.39" y="636.05" width="5.7" height="5.7" rx="2"/><rect x="1045.84" y="566.58" width="5.7" height="5.7" rx="2"/><rect x="1033.84" y="681.81" width="5.7" height="5.7" rx="2"/><rect x="1006.75" y="672.52" width="5.7" height="5.7" rx="2"/>
<rect x="985.04" y="619.56" width="5.7" height="5.7" rx="2"/><rect x="1002.50" y="571.07" width="5.7" height="5.7" rx="2"/><rect x="995.95" y="589.87" width="5.7" height="5.7" rx="2"/><rect x="1058.02" y="652.58" width="5.7" height="5.7" rx="2"/><rect x="1036.61" y="535.55" width="5.7" height="5.7" rx="2"/><rect x="1046.40" y="621.00" width="5.7" height="5.7" rx="2"/><rect x="1031.07" y="654.61" width="5.7" height="5.7" rx="2"/><rect x="994.58" y="578.05" width="5.7" height="5.7" rx="2"/>
<rect x="1042.34" y="636.04" width="5.7" height="5.7" rx="2"/><rect x="1001.34" y="540.88" width="5.7" height="5.7" rx="2"/><rect x="1061.97" y="706.33" width="5.7" height="5.7" rx="2"/><rect x="1029.25" y="646.37" width="5.7" height="5.7" rx="2"/><rect x="1030.34" y="653.06" width="5.7" height="5.7" rx="2"/><rect x="1054.07" y="661.19" width="5.7" height="5.7" rx="2"/><rect x="977.41" y="654.07" width="5.7" height="5.7" rx="2"/><rect x="1030.02" y="691.37" width="5.7" height="5.7" rx="2"/>
<rect x="1004.37" y="679.40" width="5.7" height="5.7" rx="2"/><rect x="1075.25" y="636.75" width="5.7" height="5.7" rx="2"/><rect x="1038.03" y="570.75" width="5.7" height="5.7" rx="2"/><rect x="1001.63" y="556.51" width="5.7" height="5.7" rx="2"/><rect x="980.11" y="691.97" width="5.7" height="5.7" rx="2"/><rect x="1010.03" y="713.99" width="5.7" height="5.7" rx="2"/><rect x="985.18" y="604.25" width="5.7" height="5.7" rx="2"/><rect x="1003.48" y="656.64" width="5.7" height="5.7" rx="2"/>
<rect x="993.03" y="545.79" width="5.7" height="5.7" rx="2"/><rect x="1020.62" y="631.96" width="5.7" height="5.7" rx="2"/><rect x="1015.54" y="574.06" width="5.7" height="5.7" rx="2"/><rect x="980.08" y="696.51" width="5.7" height="5.7" rx="2"/><rect x="1083.93" y="636.03" width="5.7" height="5.7" rx="2"/><rect x="1057.39" y="712.88" width="5.7" height="5.7" rx="2"/><rect x="1073.36" y="645.49" width="5.7" height="5.7" rx="2"/><rect x="1008.24" y="706.29" width="5.7" height="5.7" rx="2"/>
<rect x="979.22" y="572.84" width="5.7" height="5.7" rx="2"/><rect x="1085.02" y="645.68" width="5.7" height="5.7" rx="2"/><rect x="1000.74" y="639.34" width="5.7" height="5.7" rx="2"/><rect x="1002.04" y="617.49" width="5.7" height="5.7" rx="2"/><rect x="1015.49" y="696.25" width="5.7" height="5.7" rx="2"/><rect x="1019.79" y="591.36" width="5.7" height="5.7" rx="2"/><rect x="1046.93" y="596.19" width="5.7" height="5.7" rx="2"/><rect x="1051.87" y="665.64" width="5.7" height="5.7" rx="2"/>
<rect x="995.65" y="647.98" width="5.7" height="5.7" rx="2"/><rect x="997.85" y="543.72" width="5.7" height="5.7" rx="2"/><rect x="999.04" y="596.10" width="5.7" height="5.7" rx="2"/><rect x="1024.63" y="644.42" width="5.7" height="5.7" rx="2"/><rect x="1070.35" y="612.37" width="5.7" height="5.7" rx="2"/><rect x="983.46" y="658.46" width="5.7" height="5.7" rx="2"/><rect x="1005.65" y="574.58" width="5.7" height="5.7" rx="2"/><rect x="1004.31" y="706.33" width="5.7" height="5.7" rx="2"/>
<rect x="1018.68" y="630.96" width="5.7" height="5.7" rx="2"/><rect x="992.34" y="605.97" width="5.7" height="5.7" rx="2"/><rect x="1059.68" y="571.30" width="5.7" height="5.7" rx="2"/><rect x="977.69" y="571.88" width="5.7" height="5.7" rx="2"/><rect x="984.60" y="562.50" width="5.7" height="5.7" rx="2"/><rect x="1060.23" y="709.86" width="5.7" height="5.7" rx="2"/><rect x="1032.57" y="539.94" width="5.7" height="5.7" rx="2"/><rect x="1001.66" y="666.85" width="5.7" height="5.7" rx="2"/>
<rect x="1040.94" y="695.96" width="5.7" height="5.7" rx="2"/><rect x="978.95" y="640.62" width="5.7" height="5.7" rx="2"/><rect x="1035.29" y="566.62" width="5.7" height="5.7" rx="2"/><rect x="1048.73" y="606.72" width="5.7" height="5.7" rx="2"/><rect x="1006.29" y="676.21" width="5.7" height="5.7" rx="2"/><rect x="1053.85" y="694.26" width="5.7" height="5.7" rx="2"/><rect x="1070.71" y="696.08" width="5.7" height="5.7" rx="2"/><rect x="1013.40" y="637.85" width="5.7" height="5.7" rx="2"/>
<rect x="978.15" y="629.30" width="5.7" height="5.7" rx="2"/><rect x="1044.79" y="659.13" width="5.7" height="5.7" rx="2"/><rect x="1049.20" y="603.53" width="5.7" height="5.7" rx="2"/><rect x="1051.26" y="703.63" width="5.7" height="5.7" rx="2"/><rect x="1048.78" y="574.87" width="5.7" height="5.7" rx="2"/><rect x="1001.26" y="545.00" width="5.7" height="5.7" rx="2"/><rect x="1022.50" y="581.35" width="5.7" height="5.7" rx="2"/><rect x="1018.62" y="577.41" width="5.7" height="5.7" rx="2"/>
<rect x="1011.55" y="670.12" width="5.7" height="5.7" rx="2"/><rect x="992.90" y="622.94" width="5.7" height="5.7" rx="2"/><rect x="993.79" y="709.53" width="5.7" height="5.7" rx="2"/><rect x="985.69" y="569.95" width="5.7" height="5.7" rx="2"/><rect x="1013.05" y="534.45" width="5.7" height="5.7" rx="2"/><rect x="1039.54" y="552.48" width="5.7" height="5.7" rx="2"/><rect x="1052.60" y="657.31" width="5.7" height="5.7" rx="2"/><rect x="977.98" y="551.91" width="5.7" height="5.7" rx="2"/>
<rect x="982.37" y="702.36" width="5.7" height="5.7" rx="2"/><rect x="1029.96" y="583.46" width="5.7" height="5.7" rx="2"/><rect x="1039.90" y="646.65" width="5.7" height="5.7" rx="2"/><rect x="1003.32" y="644.29" width="5.7" height="5.7" rx="2"/><rect x="1073.54" y="639.39" width="5.7" height="5.7" rx="2"/><rect x="1048.94" y="578.54" width="5.7" height="5.7" rx="2"/><rect x="1043.13" y="680.68" width="5.7" height="5.7" rx="2"/><rect x="1038.83" y="584.78" width="5.7" height="5.7" rx="2"/>
<rect x="1044.46" y="538.43" width="5.7" height="5.7" rx="2"/><rect x="1066.71" y="676.11" width="5.7" height="5.7" rx="2"/><rect x="990.39" y="652.83" width="5.7" height="5.7" rx="2"/><rect x="1031.23" y="600.61" width="5.7" height="5.7" rx="2"/><rect x="1082.92" y="574.80" width="5.7" height="5.7" rx="2"/><rect x="1000.58" y="673.13" width="5.7" height="5.7" rx="2"/><rect x="1050.27" y="692.63" width="5.7" height="5.7" rx="2"/><rect x="1035.27" y="621.52" width="5.7" height="5.7" rx="2"/>
<rect x="1018.78" y="626.77" width="5.7" height="5.7" rx="2"/><rect x="1046.97" y="631.54" width="5.7" height="5.7" rx="2"/><rect x="1037.13" y="564.43" width="5.7" height="5.7" rx="2"/><rect x="1072.95" y="558.26" width="5.7" height="5.7" rx="2"/><rect x="1051.94" y="537.55" width="5.7" height="5.7" rx="2"/><rect x="1043.83" y="656.96" width="5.7" height="5.7" rx="2"/><rect x="1029.42" y="549.59" width="5.7" height="5.7" rx="2"/><rect x="1006.88" y="570.12" width="5.7" height="5.7" rx="2"/>
<rect x="1001.52" y="619.86" width="5.7" height="5.7" rx="2"/><rect x="995.01" y="621.48" width="5.7" height="5.7" rx="2"/><rect x="982.41" y="550.84" width="5.7" height="5.7" rx="2"/><rect x="983.00" y="614.88" width="5.7" height="5.7" rx="2"/><rect x="993.33" y="642.44" width="5.7" height="5.7" rx="2"/><rect x="1031.27" y="655.15" width="5.7" height="5.7" rx="2"/><rect x="1054.20" y="659.89" width="5.7" height="5.7" rx="2"/><rect x="1011.40" y="618.50" width="5.7" height="5.7" rx="2"/>
<rect x="1053.21" y="562.68" width="5.7" height="5.7" rx="2"/><rect x="1016.91" y="643.14" width="5.7" height="5.7" rx="2"/><rect x="1049.08" y="554.41" width="5.7" height="5.7" rx="2"/><rect x="976.96" y="631.25" width="5.7" height="5.7" rx="2"/><rect x="1039.86" y="706.98" width="5.7" height="5.7" rx="2"/><rect x="1019.09" y="713.99" width="5.7" height="5.7" rx="2"/><rect x="1126.77" y="630.65" width="5.7" height="5.7" rx="2"/><rect x="1194.19" y="593.56" width="5.7" height="5.7" rx="2"/>
<rect x="1150.06" y="634.84" width="5.7" height="5.7" rx="2"/><rect x="1116.67" y="559.86" width="5.7" height="5.7" rx="2"/><rect x="1154.83" y="519.46" width="5.7" height="5.7" rx="2"/><rect x="1206.01" y="469.70" width="5.7" height="5.7" rx="2"/><rect x="1181.70" y="532.84" width="5.7" height="5.7" rx="2"/><rect x="1156.58" y="601.46" width="5.7" height="5.7" rx="2"/><rect x="1201.77" y="501.04" width="5.7" height="5.7" rx="2"/><rect x="1125.53" y="616.14" width="5.7" height="5.7" rx="2"/>
<rect x="1216.44" y="633.30" width="5.7" height="5.7" rx="2"/><rect x="1126.99" y="561.33" width="5.7" height="5.7" rx="2"/><rect x="1176.00" y="550.20" width="5.7" height="5.7" rx="2"/><rect x="1129.55" y="587.91" width="5.7" height="5.7" rx="2"/><rect x="1138.78" y="482.20" width="5.7" height="5.7" rx="2"/><rect x="1166.79" y="481.91" width="5.7" height="5.7" rx="2"/><rect x="1119.39" y="489.20" width="5.7" height="5.7" rx="2"/><rect x="1120.83" y="645.29" width="5.7" height="5.7" rx="2"/>
<rect x="1122.38" y="486.13" width="5.7" height="5.7" rx="2"/><rect x="1223.44" y="630.20" width="5.7" height="5.7" rx="2"/><rect x="1167.02" y="647.52" width="5.7" height="5.7" rx="2"/><rect x="1174.31" y="523.75" width="5.7" height="5.7" rx="2"/><rect x="1186.01" y="592.64" width="5.7" height="5.7" rx="2"/><rect x="1217.03" y="480.52" width="5.7" height="5.7" rx="2"/><rect x="1208.86" y="482.53" width="5.7" height="5.7" rx="2"/><rect x="1205.46" y="557.22" width="5.7" height="5.7" rx="2"/>
<rect x="1116.70" y="548.86" width="5.7" height="5.7" rx="2"/><rect x="1132.32" y="475.16" width="5.7" height="5.7" rx="2"/><rect x="1153.23" y="603.99" width="5.7" height="5.7" rx="2"/><rect x="1196.64" y="600.89" width="5.7" height="5.7" rx="2"/><rect x="1114.90" y="499.66" width="5.7" height="5.7" rx="2"/><rect x="1114.96" y="652.16" width="5.7" height="5.7" rx="2"/><rect x="1200.90" y="518.46" width="5.7" height="5.7" rx="2"/><rect x="1202.09" y="549.56" width="5.7" height="5.7" rx="2"/>
<rect x="1218.29" y="628.24" width="5.7" height="5.7" rx="2"/><rect x="1158.00" y="556.95" width="5.7" height="5.7" rx="2"/><rect x="1213.81" y="532.71" width="5.7" height="5.7" rx="2"/><rect x="1138.75" y="590.26" width="5.7" height="5.7" rx="2"/><rect x="1186.02" y="651.08" width="5.7" height="5.7" rx="2"/><rect x="1183.93" y="613.35" width="5.7" height="5.7" rx="2"/><rect x="1213.32" y="492.57" width="5.7" height="5.7" rx="2"/><rect x="1149.13" y="654.35" width="5.7" height="5.7" rx="2"/>
<rect x="1195.33" y="634.56" width="5.7" height="5.7" rx="2"/><rect x="1173.84" y="619.31" width="5.7" height="5.7" rx="2"/><rect x="1125.39" y="524.93" width="5.7" height="5.7" rx="2"/><rect x="1129.47" y="482.09" width="5.7" height="5.7" rx="2"/><rect x="1114.79" y="473.51" width="5.7" height="5.7" rx="2"/><rect x="1149.11" y="560.41" width="5.7" height="5.7" rx="2"/><rect x="1136.27" y="481.40" width="5.7" height="5.7" rx="2"/><rect x="1196.70" y="654.46" width="5.7" height="5.7" rx="2"/>
<rect x="1125.67" y="477.15" width="5.7" height="5.7" rx="2"/><rect x="230.98" y="377.42" width="5.7" height="5.7" rx="2"/><rect x="189.82" y="487.85" width="5.7" height="5.7" rx="2"/><rect x="305.51" y="369.62" width="5.7" height="5.7" rx="2"/><rect x="384.94" y="412.96" width="5.7" height="5.7" rx="2"/><rect x="339.78" y="434.90" width="5.7" height="5.7" rx="2"/><rect x="335.25" y="443.24" width="5.7" height="5.7" rx="2"/><rect x="350.85" y="456.48" width="5.7" height="5.7" rx="2"/>
<rect x="378.77" y="460.11" width="5.7" height="5.7" rx="2"/><rect x="331.62" y="476.07" width="5.7" height="5.7" rx="2"/><rect x="335.25" y="476.25" width="5.7" height="5.7" rx="2"/><rect x="351.57" y="477.52" width="5.7" height="5.7" rx="2"/><rect x="325.28" y="486.22" width="5.7" height="5.7" rx="2"/><rect x="354.65" y="487.49" width="5.7" height="5.7" rx="2"/><rect x="370.07" y="502.54" width="5.7" height="5.7" rx="2"/><rect x="300.98" y="509.07" width="5.7" height="5.7" rx="2"/>
<rect x="310.41" y="512.88" width="5.7" height="5.7" rx="2"/><rect x="312.95" y="516.87" width="5.7" height="5.7" rx="2"/><rect x="316.57" y="521.22" width="5.7" height="5.7" rx="2"/><rect x="328.54" y="516.14" width="5.7" height="5.7" rx="2"/><rect x="391.47" y="522.85" width="5.7" height="5.7" rx="2"/><rect x="382.40" y="526.48" width="5.7" height="5.7" rx="2"/><rect x="196.53" y="552.64" width="5.7" height="5.7" rx="2"/><rect x="242.04" y="613.39" width="5.7" height="5.7" rx="2"/>
<rect x="226.08" y="619.19" width="5.7" height="5.7" rx="2"/><rect x="188.91" y="620.64" width="5.7" height="5.7" rx="2"/><rect x="181.29" y="631.70" width="5.7" height="5.7" rx="2"/><rect x="208.86" y="644.76" width="5.7" height="5.7" rx="2"/><rect x="245.49" y="644.76" width="5.7" height="5.7" rx="2"/><rect x="250.93" y="646.39" width="5.7" height="5.7" rx="2"/><rect x="236.96" y="650.92" width="5.7" height="5.7" rx="2"/><rect x="249.66" y="661.08" width="5.7" height="5.7" rx="2"/>
<rect x="201.24" y="665.07" width="5.7" height="5.7" rx="2"/><rect x="200.70" y="682.11" width="5.7" height="5.7" rx="2"/><rect x="220.83" y="682.84" width="5.7" height="5.7" rx="2"/><rect x="187.10" y="686.47" width="5.7" height="5.7" rx="2"/><rect x="241.50" y="690.82" width="5.7" height="5.7" rx="2"/><rect x="246.94" y="693.72" width="5.7" height="5.7" rx="2"/><rect x="217.92" y="700.97" width="5.7" height="5.7" rx="2"/><rect x="166.60" y="704.96" width="5.7" height="5.7" rx="2"/>
<rect x="227.90" y="708.59" width="5.7" height="5.7" rx="2"/><rect x="238.23" y="711.49" width="5.7" height="5.7" rx="2"/><rect x="201.60" y="715.66" width="5.7" height="5.7" rx="2"/><rect x="180.57" y="717.66" width="5.7" height="5.7" rx="2"/><rect x="149.38" y="725.09" width="5.7" height="5.7" rx="2"/><rect x="182.38" y="727.81" width="5.7" height="5.7" rx="2"/><rect x="228.08" y="726.72" width="5.7" height="5.7" rx="2"/><rect x="175.49" y="735.61" width="5.7" height="5.7" rx="2"/>
<rect x="231.71" y="742.32" width="5.7" height="5.7" rx="2"/><rect x="181.11" y="748.30" width="5.7" height="5.7" rx="2"/><rect x="188.37" y="752.29" width="5.7" height="5.7" rx="2"/><rect x="253.29" y="750.48" width="5.7" height="5.7" rx="2"/><rect x="303.15" y="533.23" width="5.7" height="5.7" rx="2"/><rect x="336.70" y="535.77" width="5.7" height="5.7" rx="2"/><rect x="354.65" y="535.95" width="5.7" height="5.7" rx="2"/><rect x="361.00" y="542.84" width="5.7" height="5.7" rx="2"/>
<rect x="340.15" y="546.47" width="5.7" height="5.7" rx="2"/><rect x="344.68" y="553.72" width="5.7" height="5.7" rx="2"/><rect x="284.66" y="559.16" width="5.7" height="5.7" rx="2"/><rect x="290.82" y="563.88" width="5.7" height="5.7" rx="2"/><rect x="321.47" y="568.41" width="5.7" height="5.7" rx="2"/><rect x="312.95" y="570.41" width="5.7" height="5.7" rx="2"/><rect x="314.22" y="573.13" width="5.7" height="5.7" rx="2"/><rect x="357.37" y="567.32" width="5.7" height="5.7" rx="2"/>
<rect x="377.68" y="567.14" width="5.7" height="5.7" rx="2"/><rect x="352.66" y="576.39" width="5.7" height="5.7" rx="2"/><rect x="355.56" y="582.38" width="5.7" height="5.7" rx="2"/><rect x="383.49" y="584.91" width="5.7" height="5.7" rx="2"/><rect x="293.18" y="590.35" width="5.7" height="5.7" rx="2"/><rect x="304.42" y="591.44" width="5.7" height="5.7" rx="2"/><rect x="314.94" y="589.09" width="5.7" height="5.7" rx="2"/><rect x="334.34" y="593.26" width="5.7" height="5.7" rx="2"/>
<rect x="347.94" y="593.98" width="5.7" height="5.7" rx="2"/><rect x="351.93" y="592.89" width="5.7" height="5.7" rx="2"/><rect x="309.86" y="596.34" width="5.7" height="5.7" rx="2"/><rect x="296.44" y="601.42" width="5.7" height="5.7" rx="2"/><rect x="322.92" y="600.51" width="5.7" height="5.7" rx="2"/><rect x="377.68" y="598.52" width="5.7" height="5.7" rx="2"/><rect x="341.60" y="603.05" width="5.7" height="5.7" rx="2"/><rect x="345.77" y="608.49" width="5.7" height="5.7" rx="2"/>
<rect x="347.94" y="613.20" width="5.7" height="5.7" rx="2"/><rect x="390.38" y="608.85" width="5.7" height="5.7" rx="2"/><rect x="366.08" y="618.46" width="5.7" height="5.7" rx="2"/><rect x="374.42" y="617.56" width="5.7" height="5.7" rx="2"/><rect x="384.58" y="621.73" width="5.7" height="5.7" rx="2"/><rect x="393.28" y="624.08" width="5.7" height="5.7" rx="2"/><rect x="347.04" y="621.73" width="5.7" height="5.7" rx="2"/><rect x="347.04" y="629.89" width="5.7" height="5.7" rx="2"/>
<rect x="374.42" y="629.34" width="5.7" height="5.7" rx="2"/><rect x="298.44" y="623.72" width="5.7" height="5.7" rx="2"/><rect x="302.07" y="628.25" width="5.7" height="5.7" rx="2"/><rect x="310.95" y="627.53" width="5.7" height="5.7" rx="2"/><rect x="370.61" y="640.04" width="5.7" height="5.7" rx="2"/><rect x="291.37" y="642.04" width="5.7" height="5.7" rx="2"/><rect x="339.06" y="642.76" width="5.7" height="5.7" rx="2"/><rect x="305.69" y="648.57" width="5.7" height="5.7" rx="2"/>
<rect x="317.12" y="652.74" width="5.7" height="5.7" rx="2"/><rect x="347.22" y="649.65" width="5.7" height="5.7" rx="2"/><rect x="358.83" y="652.74" width="5.7" height="5.7" rx="2"/><rect x="380.59" y="646.75" width="5.7" height="5.7" rx="2"/><rect x="377.68" y="649.83" width="5.7" height="5.7" rx="2"/><rect x="378.77" y="665.61" width="5.7" height="5.7" rx="2"/><rect x="349.03" y="668.69" width="5.7" height="5.7" rx="2"/><rect x="380.59" y="674.32" width="5.7" height="5.7" rx="2"/>
<rect x="290.46" y="677.94" width="5.7" height="5.7" rx="2"/><rect x="303.52" y="677.04" width="5.7" height="5.7" rx="2"/><rect x="314.94" y="678.49" width="5.7" height="5.7" rx="2"/><rect x="289.92" y="685.20" width="5.7" height="5.7" rx="2"/><rect x="371.16" y="683.38" width="5.7" height="5.7" rx="2"/><rect x="374.24" y="685.74" width="5.7" height="5.7" rx="2"/><rect x="393.28" y="686.47" width="5.7" height="5.7" rx="2"/><rect x="360.64" y="691.18" width="5.7" height="5.7" rx="2"/>
<rect x="293.18" y="694.81" width="5.7" height="5.7" rx="2"/><rect x="344.68" y="695.17" width="5.7" height="5.7" rx="2"/><rect x="373.15" y="695.89" width="5.7" height="5.7" rx="2"/><rect x="331.08" y="698.80" width="5.7" height="5.7" rx="2"/><rect x="365.72" y="699.88" width="5.7" height="5.7" rx="2"/><rect x="284.66" y="700.61" width="5.7" height="5.7" rx="2"/><rect x="300.25" y="705.51" width="5.7" height="5.7" rx="2"/><rect x="350.48" y="704.42" width="5.7" height="5.7" rx="2"/>
<rect x="382.58" y="705.69" width="5.7" height="5.7" rx="2"/><rect x="325.28" y="706.96" width="5.7" height="5.7" rx="2"/><rect x="337.61" y="707.86" width="5.7" height="5.7" rx="2"/><rect x="337.61" y="711.13" width="5.7" height="5.7" rx="2"/><rect x="325.28" y="712.76" width="5.7" height="5.7" rx="2"/><rect x="318.02" y="716.93" width="5.7" height="5.7" rx="2"/><rect x="284.48" y="719.83" width="5.7" height="5.7" rx="2"/><rect x="318.93" y="722.37" width="5.7" height="5.7" rx="2"/>
<rect x="321.65" y="726.36" width="5.7" height="5.7" rx="2"/><rect x="317.12" y="727.45" width="5.7" height="5.7" rx="2"/><rect x="299.89" y="727.81" width="5.7" height="5.7" rx="2"/><rect x="304.42" y="727.45" width="5.7" height="5.7" rx="2"/><rect x="303.52" y="731.07" width="5.7" height="5.7" rx="2"/><rect x="357.56" y="725.09" width="5.7" height="5.7" rx="2"/><rect x="364.81" y="728.54" width="5.7" height="5.7" rx="2"/><rect x="298.98" y="735.97" width="5.7" height="5.7" rx="2"/>
<rect x="324.01" y="734.16" width="5.7" height="5.7" rx="2"/><rect x="351.57" y="733.98" width="5.7" height="5.7" rx="2"/><rect x="377.32" y="734.52" width="5.7" height="5.7" rx="2"/><rect x="344.32" y="736.88" width="5.7" height="5.7" rx="2"/><rect x="287.56" y="737.78" width="5.7" height="5.7" rx="2"/><rect x="338.88" y="740.50" width="5.7" height="5.7" rx="2"/><rect x="360.64" y="741.77" width="5.7" height="5.7" rx="2"/><rect x="376.42" y="741.41" width="5.7" height="5.7" rx="2"/>
<rect x="289.55" y="742.68" width="5.7" height="5.7" rx="2"/><rect x="299.89" y="746.31" width="5.7" height="5.7" rx="2"/><rect x="327.09" y="747.21" width="5.7" height="5.7" rx="2"/><rect x="355.56" y="746.31" width="5.7" height="5.7" rx="2"/><rect x="338.88" y="745.04" width="5.7" height="5.7" rx="2"/><rect x="222.82" y="760.86" width="5.7" height="5.7" rx="2"/><rect x="178.75" y="766.84" width="5.7" height="5.7" rx="2"/><rect x="242.04" y="771.01" width="5.7" height="5.7" rx="2"/>
<rect x="154.82" y="778.09" width="5.7" height="5.7" rx="2"/><rect x="156.63" y="783.53" width="5.7" height="5.7" rx="2"/><rect x="153.91" y="789.87" width="5.7" height="5.7" rx="2"/><rect x="222.82" y="779.90" width="5.7" height="5.7" rx="2"/><rect x="218.83" y="781.90" width="5.7" height="5.7" rx="2"/><rect x="235.51" y="780.81" width="5.7" height="5.7" rx="2"/><rect x="225.00" y="789.87" width="5.7" height="5.7" rx="2"/><rect x="163.34" y="800.03" width="5.7" height="5.7" rx="2"/>
<rect x="186.55" y="799.49" width="5.7" height="5.7" rx="2"/><rect x="190.72" y="807.10" width="5.7" height="5.7" rx="2"/><rect x="188.37" y="812.54" width="5.7" height="5.7" rx="2"/><rect x="251.83" y="802.39" width="5.7" height="5.7" rx="2"/><rect x="155.72" y="824.51" width="5.7" height="5.7" rx="2"/><rect x="178.75" y="829.59" width="5.7" height="5.7" rx="2"/><rect x="189.63" y="836.12" width="5.7" height="5.7" rx="2"/><rect x="250.20" y="834.67" width="5.7" height="5.7" rx="2"/>
<rect x="210.13" y="857.51" width="5.7" height="5.7" rx="2"/><rect x="213.21" y="856.97" width="5.7" height="5.7" rx="2"/><rect x="220.10" y="859.33" width="5.7" height="5.7" rx="2"/><rect x="248.21" y="859.33" width="5.7" height="5.7" rx="2"/><rect x="236.78" y="869.66" width="5.7" height="5.7" rx="2"/><rect x="249.11" y="872.57" width="5.7" height="5.7" rx="2"/><rect x="151.19" y="877.82" width="5.7" height="5.7" rx="2"/><rect x="175.67" y="876.92" width="5.7" height="5.7" rx="2"/>
<rect x="184.74" y="876.01" width="5.7" height="5.7" rx="2"/><rect x="226.81" y="877.10" width="5.7" height="5.7" rx="2"/><rect x="198.70" y="884.17" width="5.7" height="5.7" rx="2"/><rect x="218.65" y="885.80" width="5.7" height="5.7" rx="2"/><rect x="234.97" y="887.80" width="5.7" height="5.7" rx="2"/><rect x="149.38" y="898.68" width="5.7" height="5.7" rx="2"/><rect x="168.96" y="897.23" width="5.7" height="5.7" rx="2"/><rect x="187.82" y="896.50" width="5.7" height="5.7" rx="2"/>
<rect x="247.48" y="895.60" width="5.7" height="5.7" rx="2"/><rect x="247.48" y="899.22" width="5.7" height="5.7" rx="2"/><rect x="191.99" y="910.83" width="5.7" height="5.7" rx="2"/><rect x="156.63" y="915.18" width="5.7" height="5.7" rx="2"/><rect x="235.88" y="917.17" width="5.7" height="5.7" rx="2"/><rect x="195.08" y="921.53" width="5.7" height="5.7" rx="2"/><rect x="214.66" y="920.44" width="5.7" height="5.7" rx="2"/><rect x="222.28" y="923.52" width="5.7" height="5.7" rx="2"/>
<rect x="255.46" y="920.62" width="5.7" height="5.7" rx="2"/><rect x="172.41" y="932.04" width="5.7" height="5.7" rx="2"/><rect x="207.04" y="930.23" width="5.7" height="5.7" rx="2"/><rect x="214.66" y="934.76" width="5.7" height="5.7" rx="2"/><rect x="149.38" y="935.49" width="5.7" height="5.7" rx="2"/><rect x="152.10" y="936.03" width="5.7" height="5.7" rx="2"/><rect x="153.91" y="939.48" width="5.7" height="5.7" rx="2"/><rect x="176.94" y="943.47" width="5.7" height="5.7" rx="2"/>
<rect x="171.68" y="946.37" width="5.7" height="5.7" rx="2"/><rect x="165.70" y="948.91" width="5.7" height="5.7" rx="2"/><rect x="162.98" y="955.44" width="5.7" height="5.7" rx="2"/><rect x="174.22" y="959.06" width="5.7" height="5.7" rx="2"/><rect x="199.25" y="960.52" width="5.7" height="5.7" rx="2"/><rect x="249.11" y="959.61" width="5.7" height="5.7" rx="2"/><rect x="230.62" y="965.96" width="5.7" height="5.7" rx="2"/><rect x="184.74" y="968.49" width="5.7" height="5.7" rx="2"/>
<rect x="241.14" y="969.04" width="5.7" height="5.7" rx="2"/><rect x="150.28" y="972.66" width="5.7" height="5.7" rx="2"/><rect x="215.20" y="977.56" width="5.7" height="5.7" rx="2"/><rect x="294.09" y="758.68" width="5.7" height="5.7" rx="2"/><rect x="300.98" y="765.39" width="5.7" height="5.7" rx="2"/><rect x="384.76" y="759.59" width="5.7" height="5.7" rx="2"/><rect x="357.56" y="766.30" width="5.7" height="5.7" rx="2"/><rect x="362.45" y="768.66" width="5.7" height="5.7" rx="2"/>
<rect x="372.06" y="766.30" width="5.7" height="5.7" rx="2"/><rect x="393.82" y="767.39" width="5.7" height="5.7" rx="2"/><rect x="387.84" y="772.28" width="5.7" height="5.7" rx="2"/><rect x="361.00" y="778.27" width="5.7" height="5.7" rx="2"/><rect x="377.87" y="782.26" width="5.7" height="5.7" rx="2"/><rect x="356.47" y="785.34" width="5.7" height="5.7" rx="2"/><rect x="376.96" y="787.88" width="5.7" height="5.7" rx="2"/><rect x="308.96" y="786.25" width="5.7" height="5.7" rx="2"/>
<rect x="298.98" y="789.33" width="5.7" height="5.7" rx="2"/><rect x="346.13" y="805.11" width="5.7" height="5.7" rx="2"/><rect x="369.71" y="808.73" width="5.7" height="5.7" rx="2"/><rect x="367.53" y="812.18" width="5.7" height="5.7" rx="2"/><rect x="377.32" y="815.99" width="5.7" height="5.7" rx="2"/><rect x="363.00" y="826.69" width="5.7" height="5.7" rx="2"/><rect x="373.88" y="826.69" width="5.7" height="5.7" rx="2"/><rect x="392.55" y="825.24" width="5.7" height="5.7" rx="2"/>
<rect x="293.36" y="831.22" width="5.7" height="5.7" rx="2"/><rect x="320.93" y="843.73" width="5.7" height="5.7" rx="2"/><rect x="386.03" y="845.00" width="5.7" height="5.7" rx="2"/><rect x="289.01" y="850.44" width="5.7" height="5.7" rx="2"/><rect x="289.19" y="860.23" width="5.7" height="5.7" rx="2"/><rect x="349.03" y="856.06" width="5.7" height="5.7" rx="2"/><rect x="341.05" y="864.04" width="5.7" height="5.7" rx="2"/><rect x="349.03" y="885.98" width="5.7" height="5.7" rx="2"/>
<rect x="371.16" y="889.07" width="5.7" height="5.7" rx="2"/><rect x="381.13" y="898.68" width="5.7" height="5.7" rx="2"/><rect x="331.08" y="903.57" width="5.7" height="5.7" rx="2"/><rect x="328.00" y="907.02" width="5.7" height="5.7" rx="2"/><rect x="327.09" y="935.49" width="5.7" height="5.7" rx="2"/><rect x="322.92" y="944.01" width="5.7" height="5.7" rx="2"/><rect x="178.94" y="981.23" width="5.7" height="5.7" rx="2"/><rect x="197.07" y="981.41" width="5.7" height="5.7" rx="2"/>
<rect x="225.54" y="990.30" width="5.7" height="5.7" rx="2"/><rect x="245.85" y="989.94" width="5.7" height="5.7" rx="2"/><rect x="201.60" y="1005.35" width="5.7" height="5.7" rx="2"/><rect x="209.58" y="1012.06" width="5.7" height="5.7" rx="2"/><rect x="205.05" y="1020.95" width="5.7" height="5.7" rx="2"/><rect x="207.95" y="1043.98" width="5.7" height="5.7" rx="2"/><rect x="157.17" y="1049.60" width="5.7" height="5.7" rx="2"/><rect x="240.23" y="1051.59" width="5.7" height="5.7" rx="2"/>
<rect x="181.29" y="1060.84" width="5.7" height="5.7" rx="2"/><rect x="163.70" y="1072.45" width="5.7" height="5.7" rx="2"/><rect x="150.10" y="1078.25" width="5.7" height="5.7" rx="2"/><rect x="224.09" y="1075.35" width="5.7" height="5.7" rx="2"/><rect x="229.17" y="1100.74" width="5.7" height="5.7" rx="2"/><rect x="190.00" y="1124.85" width="5.7" height="5.7" rx="2"/><rect x="184.38" y="1139.54" width="5.7" height="5.7" rx="2"/><rect x="182.38" y="1149.34" width="5.7" height="5.7" rx="2"/>
<rect x="218.47" y="1147.16" width="5.7" height="5.7" rx="2"/><rect x="348.31" y="1025.30" width="5.7" height="5.7" rx="2"/><rect x="326.55" y="1080.24" width="5.7" height="5.7" rx="2"/><rect x="511.15" y="410.94" width="5.7" height="5.7" rx="2"/><rect x="507.16" y="445.93" width="5.7" height="5.7" rx="2"/><rect x="623.94" y="253.71" width="5.7" height="5.7" rx="2"/><rect x="668.74" y="276.74" width="5.7" height="5.7" rx="2"/><rect x="640.45" y="286.54" width="5.7" height="5.7" rx="2"/>
<rect x="578.79" y="338.22" width="5.7" height="5.7" rx="2"/><rect x="568.27" y="359.43" width="5.7" height="5.7" rx="2"/><rect x="647.16" y="362.16" width="5.7" height="5.7" rx="2"/><rect x="654.05" y="365.78" width="5.7" height="5.7" rx="2"/><rect x="608.35" y="369.95" width="5.7" height="5.7" rx="2"/><rect x="626.85" y="374.30" width="5.7" height="5.7" rx="2"/><rect x="602.73" y="397.70" width="5.7" height="5.7" rx="2"/><rect x="597.65" y="408.03" width="5.7" height="5.7" rx="2"/>
<rect x="642.99" y="405.50" width="5.7" height="5.7" rx="2"/><rect x="623.94" y="409.85" width="5.7" height="5.7" rx="2"/><rect x="618.87" y="412.93" width="5.7" height="5.7" rx="2"/><rect x="640.81" y="416.74" width="5.7" height="5.7" rx="2"/><rect x="634.83" y="426.53" width="5.7" height="5.7" rx="2"/><rect x="631.56" y="433.78" width="5.7" height="5.7" rx="2"/><rect x="640.99" y="433.42" width="5.7" height="5.7" rx="2"/><rect x="646.61" y="441.04" width="5.7" height="5.7" rx="2"/>
<rect x="664.75" y="439.59" width="5.7" height="5.7" rx="2"/><rect x="618.14" y="446.48" width="5.7" height="5.7" rx="2"/><rect x="664.75" y="448.84" width="5.7" height="5.7" rx="2"/><rect x="466.72" y="464.11" width="5.7" height="5.7" rx="2"/><rect x="528.74" y="535.74" width="5.7" height="5.7" rx="2"/><rect x="496.46" y="561.67" width="5.7" height="5.7" rx="2"/><rect x="517.14" y="560.22" width="5.7" height="5.7" rx="2"/><rect x="529.83" y="566.75" width="5.7" height="5.7" rx="2"/>
<rect x="464.91" y="565.66" width="5.7" height="5.7" rx="2"/><rect x="442.60" y="577.81" width="5.7" height="5.7" rx="2"/><rect x="433.90" y="587.24" width="5.7" height="5.7" rx="2"/><rect x="488.48" y="583.25" width="5.7" height="5.7" rx="2"/><rect x="464.91" y="594.13" width="5.7" height="5.7" rx="2"/><rect x="488.85" y="605.92" width="5.7" height="5.7" rx="2"/><rect x="478.69" y="614.81" width="5.7" height="5.7" rx="2"/><rect x="428.64" y="623.87" width="5.7" height="5.7" rx="2"/>
<rect x="438.07" y="620.97" width="5.7" height="5.7" rx="2"/><rect x="437.53" y="626.96" width="5.7" height="5.7" rx="2"/><rect x="442.06" y="633.30" width="5.7" height="5.7" rx="2"/><rect x="460.38" y="634.57" width="5.7" height="5.7" rx="2"/><rect x="467.63" y="642.73" width="5.7" height="5.7" rx="2"/><rect x="478.51" y="649.99" width="5.7" height="5.7" rx="2"/><rect x="515.87" y="650.89" width="5.7" height="5.7" rx="2"/><rect x="424.47" y="650.17" width="5.7" height="5.7" rx="2"/>
<rect x="423.75" y="654.70" width="5.7" height="5.7" rx="2"/><rect x="459.65" y="659.60" width="5.7" height="5.7" rx="2"/><rect x="529.29" y="669.93" width="5.7" height="5.7" rx="2"/><rect x="664.93" y="451.60" width="5.7" height="5.7" rx="2"/><rect x="583.14" y="455.05" width="5.7" height="5.7" rx="2"/><rect x="615.97" y="457.95" width="5.7" height="5.7" rx="2"/><rect x="576.43" y="463.39" width="5.7" height="5.7" rx="2"/><rect x="575.35" y="470.64" width="5.7" height="5.7" rx="2"/>
<rect x="664.93" y="466.47" width="5.7" height="5.7" rx="2"/><rect x="602.37" y="469.19" width="5.7" height="5.7" rx="2"/><rect x="608.17" y="474.63" width="5.7" height="5.7" rx="2"/><rect x="623.04" y="467.38" width="5.7" height="5.7" rx="2"/><rect x="618.50" y="470.64" width="5.7" height="5.7" rx="2"/><rect x="618.50" y="478.80" width="5.7" height="5.7" rx="2"/><rect x="587.31" y="478.80" width="5.7" height="5.7" rx="2"/><rect x="594.39" y="480.98" width="5.7" height="5.7" rx="2"/>
<rect x="584.96" y="489.14" width="5.7" height="5.7" rx="2"/><rect x="607.62" y="488.59" width="5.7" height="5.7" rx="2"/><rect x="606.90" y="493.67" width="5.7" height="5.7" rx="2"/><rect x="613.97" y="492.76" width="5.7" height="5.7" rx="2"/><rect x="616.33" y="495.49" width="5.7" height="5.7" rx="2"/><rect x="566.10" y="495.49" width="5.7" height="5.7" rx="2"/><rect x="595.66" y="503.28" width="5.7" height="5.7" rx="2"/><rect x="631.20" y="500.02" width="5.7" height="5.7" rx="2"/>
<rect x="630.29" y="505.10" width="5.7" height="5.7" rx="2"/><rect x="637.00" y="506.37" width="5.7" height="5.7" rx="2"/><rect x="644.44" y="508.54" width="5.7" height="5.7" rx="2"/><rect x="668.37" y="503.28" width="5.7" height="5.7" rx="2"/><rect x="562.83" y="514.16" width="5.7" height="5.7" rx="2"/><rect x="570.99" y="513.26" width="5.7" height="5.7" rx="2"/><rect x="586.04" y="513.62" width="5.7" height="5.7" rx="2"/><rect x="594.02" y="513.62" width="5.7" height="5.7" rx="2"/>
<rect x="612.16" y="517.25" width="5.7" height="5.7" rx="2"/><rect x="564.10" y="522.14" width="5.7" height="5.7" rx="2"/><rect x="650.78" y="521.96" width="5.7" height="5.7" rx="2"/><rect x="666.92" y="519.42" width="5.7" height="5.7" rx="2"/><rect x="665.65" y="525.95" width="5.7" height="5.7" rx="2"/><rect x="578.97" y="532.30" width="5.7" height="5.7" rx="2"/><rect x="566.28" y="537.19" width="5.7" height="5.7" rx="2"/><rect x="627.93" y="536.83" width="5.7" height="5.7" rx="2"/>
<rect x="623.58" y="542.27" width="5.7" height="5.7" rx="2"/><rect x="645.71" y="544.08" width="5.7" height="5.7" rx="2"/><rect x="650.24" y="547.17" width="5.7" height="5.7" rx="2"/><rect x="656.95" y="548.98" width="5.7" height="5.7" rx="2"/><rect x="619.41" y="549.52" width="5.7" height="5.7" rx="2"/><rect x="623.04" y="548.07" width="5.7" height="5.7" rx="2"/><rect x="631.20" y="548.98" width="5.7" height="5.7" rx="2"/><rect x="588.58" y="551.16" width="5.7" height="5.7" rx="2"/>
<rect x="598.56" y="553.51" width="5.7" height="5.7" rx="2"/><rect x="564.10" y="552.24" width="5.7" height="5.7" rx="2"/><rect x="566.28" y="555.33" width="5.7" height="5.7" rx="2"/><rect x="653.87" y="554.42" width="5.7" height="5.7" rx="2"/><rect x="656.95" y="558.59" width="5.7" height="5.7" rx="2"/><rect x="664.20" y="560.22" width="5.7" height="5.7" rx="2"/><rect x="651.15" y="562.94" width="5.7" height="5.7" rx="2"/><rect x="565.19" y="562.94" width="5.7" height="5.7" rx="2"/>
<rect x="614.88" y="558.95" width="5.7" height="5.7" rx="2"/><rect x="612.16" y="564.76" width="5.7" height="5.7" rx="2"/><rect x="624.85" y="568.93" width="5.7" height="5.7" rx="2"/><rect x="565.01" y="575.27" width="5.7" height="5.7" rx="2"/><rect x="564.10" y="579.26" width="5.7" height="5.7" rx="2"/><rect x="567.73" y="580.71" width="5.7" height="5.7" rx="2"/><rect x="596.74" y="575.27" width="5.7" height="5.7" rx="2"/><rect x="608.53" y="575.27" width="5.7" height="5.7" rx="2"/>
<rect x="645.71" y="575.82" width="5.7" height="5.7" rx="2"/><rect x="649.33" y="579.26" width="5.7" height="5.7" rx="2"/><rect x="665.65" y="573.10" width="5.7" height="5.7" rx="2"/><rect x="634.28" y="579.45" width="5.7" height="5.7" rx="2"/><rect x="590.94" y="582.17" width="5.7" height="5.7" rx="2"/><rect x="605.27" y="583.98" width="5.7" height="5.7" rx="2"/><rect x="663.84" y="582.53" width="5.7" height="5.7" rx="2"/><rect x="567.73" y="590.14" width="5.7" height="5.7" rx="2"/>
<rect x="599.46" y="594.32" width="5.7" height="5.7" rx="2"/><rect x="611.25" y="593.41" width="5.7" height="5.7" rx="2"/><rect x="607.62" y="597.94" width="5.7" height="5.7" rx="2"/><rect x="604.90" y="601.57" width="5.7" height="5.7" rx="2"/><rect x="637.18" y="594.32" width="5.7" height="5.7" rx="2"/><rect x="652.05" y="590.69" width="5.7" height="5.7" rx="2"/><rect x="659.31" y="590.69" width="5.7" height="5.7" rx="2"/><rect x="655.68" y="597.04" width="5.7" height="5.7" rx="2"/>
<rect x="640.81" y="602.48" width="5.7" height="5.7" rx="2"/><rect x="646.25" y="607.55" width="5.7" height="5.7" rx="2"/><rect x="613.06" y="604.83" width="5.7" height="5.7" rx="2"/><rect x="597.65" y="605.74" width="5.7" height="5.7" rx="2"/><rect x="593.12" y="610.64" width="5.7" height="5.7" rx="2"/><rect x="566.82" y="605.20" width="5.7" height="5.7" rx="2"/><rect x="563.20" y="609.73" width="5.7" height="5.7" rx="2"/><rect x="610.34" y="610.64" width="5.7" height="5.7" rx="2"/>
<rect x="618.50" y="611.54" width="5.7" height="5.7" rx="2"/><rect x="614.88" y="616.08" width="5.7" height="5.7" rx="2"/><rect x="585.86" y="615.71" width="5.7" height="5.7" rx="2"/><rect x="561.02" y="618.43" width="5.7" height="5.7" rx="2"/><rect x="604.00" y="619.16" width="5.7" height="5.7" rx="2"/><rect x="626.66" y="620.61" width="5.7" height="5.7" rx="2"/><rect x="630.29" y="620.61" width="5.7" height="5.7" rx="2"/><rect x="640.27" y="619.70" width="5.7" height="5.7" rx="2"/>
<rect x="649.33" y="617.35" width="5.7" height="5.7" rx="2"/><rect x="657.49" y="618.80" width="5.7" height="5.7" rx="2"/><rect x="660.58" y="620.61" width="5.7" height="5.7" rx="2"/><rect x="669.28" y="619.70" width="5.7" height="5.7" rx="2"/><rect x="670.19" y="625.14" width="5.7" height="5.7" rx="2"/><rect x="589.13" y="625.69" width="5.7" height="5.7" rx="2"/><rect x="593.12" y="629.68" width="5.7" height="5.7" rx="2"/><rect x="597.65" y="630.22" width="5.7" height="5.7" rx="2"/>
<rect x="612.16" y="625.69" width="5.7" height="5.7" rx="2"/><rect x="620.32" y="625.69" width="5.7" height="5.7" rx="2"/><rect x="613.06" y="632.40" width="5.7" height="5.7" rx="2"/><rect x="619.41" y="631.49" width="5.7" height="5.7" rx="2"/><rect x="620.32" y="635.12" width="5.7" height="5.7" rx="2"/><rect x="630.29" y="631.13" width="5.7" height="5.7" rx="2"/><rect x="633.92" y="631.13" width="5.7" height="5.7" rx="2"/><rect x="646.61" y="633.67" width="5.7" height="5.7" rx="2"/>
<rect x="654.77" y="631.49" width="5.7" height="5.7" rx="2"/><rect x="654.77" y="636.02" width="5.7" height="5.7" rx="2"/><rect x="663.84" y="636.93" width="5.7" height="5.7" rx="2"/><rect x="669.28" y="634.75" width="5.7" height="5.7" rx="2"/><rect x="562.83" y="630.58" width="5.7" height="5.7" rx="2"/><rect x="564.10" y="634.21" width="5.7" height="5.7" rx="2"/><rect x="565.92" y="640.19" width="5.7" height="5.7" rx="2"/><rect x="579.15" y="644.73" width="5.7" height="5.7" rx="2"/>
<rect x="619.41" y="642.37" width="5.7" height="5.7" rx="2"/><rect x="618.50" y="646.90" width="5.7" height="5.7" rx="2"/><rect x="617.60" y="651.44" width="5.7" height="5.7" rx="2"/><rect x="614.88" y="656.52" width="5.7" height="5.7" rx="2"/><rect x="594.93" y="655.97" width="5.7" height="5.7" rx="2"/><rect x="593.12" y="660.50" width="5.7" height="5.7" rx="2"/><rect x="597.65" y="661.41" width="5.7" height="5.7" rx="2"/><rect x="630.29" y="659.60" width="5.7" height="5.7" rx="2"/>
<rect x="646.61" y="660.50" width="5.7" height="5.7" rx="2"/><rect x="653.87" y="660.50" width="5.7" height="5.7" rx="2"/><rect x="652.96" y="665.04" width="5.7" height="5.7" rx="2"/><rect x="659.31" y="665.04" width="5.7" height="5.7" rx="2"/><rect x="652.96" y="667.76" width="5.7" height="5.7" rx="2"/><rect x="581.87" y="667.76" width="5.7" height="5.7" rx="2"/><rect x="613.06" y="669.57" width="5.7" height="5.7" rx="2"/><rect x="635.73" y="670.48" width="5.7" height="5.7" rx="2"/>
<rect x="568.64" y="672.84" width="5.7" height="5.7" rx="2"/><rect x="604.00" y="672.84" width="5.7" height="5.7" rx="2"/><rect x="666.56" y="672.29" width="5.7" height="5.7" rx="2"/><rect x="442.60" y="684.49" width="5.7" height="5.7" rx="2"/><rect x="523.30" y="685.94" width="5.7" height="5.7" rx="2"/><rect x="528.74" y="686.30" width="5.7" height="5.7" rx="2"/><rect x="428.64" y="693.55" width="5.7" height="5.7" rx="2"/><rect x="526.02" y="693.73" width="5.7" height="5.7" rx="2"/>
<rect x="432.27" y="709.51" width="5.7" height="5.7" rx="2"/><rect x="490.30" y="708.24" width="5.7" height="5.7" rx="2"/><rect x="505.35" y="711.14" width="5.7" height="5.7" rx="2"/><rect x="501.54" y="731.82" width="5.7" height="5.7" rx="2"/><rect x="428.10" y="735.44" width="5.7" height="5.7" rx="2"/><rect x="454.57" y="745.05" width="5.7" height="5.7" rx="2"/><rect x="516.41" y="741.79" width="5.7" height="5.7" rx="2"/><rect x="522.39" y="744.51" width="5.7" height="5.7" rx="2"/>
<rect x="485.58" y="752.67" width="5.7" height="5.7" rx="2"/><rect x="498.28" y="753.21" width="5.7" height="5.7" rx="2"/><rect x="507.16" y="768.99" width="5.7" height="5.7" rx="2"/><rect x="460.74" y="791.11" width="5.7" height="5.7" rx="2"/><rect x="484.31" y="791.48" width="5.7" height="5.7" rx="2"/><rect x="532.01" y="791.48" width="5.7" height="5.7" rx="2"/><rect x="469.81" y="796.01" width="5.7" height="5.7" rx="2"/><rect x="461.83" y="801.99" width="5.7" height="5.7" rx="2"/>
<rect x="493.38" y="798.91" width="5.7" height="5.7" rx="2"/><rect x="438.07" y="805.44" width="5.7" height="5.7" rx="2"/><rect x="520.40" y="814.87" width="5.7" height="5.7" rx="2"/><rect x="513.15" y="816.50" width="5.7" height="5.7" rx="2"/><rect x="504.62" y="822.85" width="5.7" height="5.7" rx="2"/><rect x="440.07" y="827.93" width="5.7" height="5.7" rx="2"/><rect x="424.47" y="834.82" width="5.7" height="5.7" rx="2"/><rect x="438.43" y="847.87" width="5.7" height="5.7" rx="2"/>
<rect x="482.14" y="850.05" width="5.7" height="5.7" rx="2"/><rect x="424.11" y="858.21" width="5.7" height="5.7" rx="2"/><rect x="449.31" y="893.03" width="5.7" height="5.7" rx="2"/><rect x="574.08" y="675.96" width="5.7" height="5.7" rx="2"/><rect x="583.14" y="676.87" width="5.7" height="5.7" rx="2"/><rect x="582.24" y="682.31" width="5.7" height="5.7" rx="2"/><rect x="580.42" y="685.39" width="5.7" height="5.7" rx="2"/><rect x="585.86" y="685.94" width="5.7" height="5.7" rx="2"/>
<rect x="592.21" y="686.84" width="5.7" height="5.7" rx="2"/><rect x="604.00" y="675.60" width="5.7" height="5.7" rx="2"/><rect x="611.25" y="679.59" width="5.7" height="5.7" rx="2"/><rect x="618.50" y="676.33" width="5.7" height="5.7" rx="2"/><rect x="630.29" y="677.41" width="5.7" height="5.7" rx="2"/><rect x="642.08" y="677.41" width="5.7" height="5.7" rx="2"/><rect x="635.73" y="683.22" width="5.7" height="5.7" rx="2"/><rect x="643.89" y="685.39" width="5.7" height="5.7" rx="2"/>
<rect x="651.15" y="685.94" width="5.7" height="5.7" rx="2"/><rect x="659.31" y="676.33" width="5.7" height="5.7" rx="2"/><rect x="668.37" y="675.96" width="5.7" height="5.7" rx="2"/><rect x="641.17" y="693.19" width="5.7" height="5.7" rx="2"/><rect x="614.88" y="694.64" width="5.7" height="5.7" rx="2"/><rect x="670.19" y="694.10" width="5.7" height="5.7" rx="2"/><rect x="659.31" y="696.82" width="5.7" height="5.7" rx="2"/><rect x="661.12" y="702.26" width="5.7" height="5.7" rx="2"/>
<rect x="668.74" y="701.71" width="5.7" height="5.7" rx="2"/><rect x="590.40" y="699.54" width="5.7" height="5.7" rx="2"/><rect x="606.72" y="698.63" width="5.7" height="5.7" rx="2"/><rect x="606.72" y="704.98" width="5.7" height="5.7" rx="2"/><rect x="573.53" y="703.16" width="5.7" height="5.7" rx="2"/><rect x="580.97" y="706.43" width="5.7" height="5.7" rx="2"/><rect x="642.99" y="702.26" width="5.7" height="5.7" rx="2"/><rect x="638.45" y="706.79" width="5.7" height="5.7" rx="2"/>
<rect x="640.27" y="710.42" width="5.7" height="5.7" rx="2"/><rect x="619.41" y="710.42" width="5.7" height="5.7" rx="2"/><rect x="652.05" y="710.42" width="5.7" height="5.7" rx="2"/><rect x="654.77" y="714.95" width="5.7" height="5.7" rx="2"/><rect x="595.84" y="714.59" width="5.7" height="5.7" rx="2"/><rect x="604.90" y="716.76" width="5.7" height="5.7" rx="2"/><rect x="570.99" y="720.39" width="5.7" height="5.7" rx="2"/><rect x="586.77" y="722.21" width="5.7" height="5.7" rx="2"/>
<rect x="588.58" y="725.47" width="5.7" height="5.7" rx="2"/><rect x="598.56" y="723.11" width="5.7" height="5.7" rx="2"/><rect x="565.92" y="728.01" width="5.7" height="5.7" rx="2"/><rect x="619.77" y="730.00" width="5.7" height="5.7" rx="2"/><rect x="634.83" y="728.55" width="5.7" height="5.7" rx="2"/><rect x="643.89" y="728.55" width="5.7" height="5.7" rx="2"/><rect x="638.45" y="732.18" width="5.7" height="5.7" rx="2"/><rect x="652.96" y="730.00" width="5.7" height="5.7" rx="2"/>
<rect x="633.92" y="735.81" width="5.7" height="5.7" rx="2"/><rect x="613.06" y="733.99" width="5.7" height="5.7" rx="2"/><rect x="582.78" y="732.54" width="5.7" height="5.7" rx="2"/><rect x="598.56" y="736.35" width="5.7" height="5.7" rx="2"/><rect x="565.37" y="737.62" width="5.7" height="5.7" rx="2"/><rect x="616.69" y="741.79" width="5.7" height="5.7" rx="2"/><rect x="645.34" y="743.06" width="5.7" height="5.7" rx="2"/><rect x="601.28" y="743.97" width="5.7" height="5.7" rx="2"/>
<rect x="575.89" y="743.97" width="5.7" height="5.7" rx="2"/><rect x="572.26" y="746.69" width="5.7" height="5.7" rx="2"/><rect x="643.89" y="750.31" width="5.7" height="5.7" rx="2"/><rect x="614.88" y="750.31" width="5.7" height="5.7" rx="2"/><rect x="574.08" y="752.13" width="5.7" height="5.7" rx="2"/><rect x="595.84" y="752.67" width="5.7" height="5.7" rx="2"/><rect x="628.12" y="753.94" width="5.7" height="5.7" rx="2"/><rect x="656.59" y="755.75" width="5.7" height="5.7" rx="2"/>
<rect x="667.10" y="756.66" width="5.7" height="5.7" rx="2"/><rect x="616.69" y="756.66" width="5.7" height="5.7" rx="2"/><rect x="567.37" y="757.20" width="5.7" height="5.7" rx="2"/><rect x="560.84" y="763.91" width="5.7" height="5.7" rx="2"/><rect x="586.23" y="760.83" width="5.7" height="5.7" rx="2"/><rect x="578.61" y="765.73" width="5.7" height="5.7" rx="2"/><rect x="610.89" y="760.83" width="5.7" height="5.7" rx="2"/><rect x="627.03" y="770.26" width="5.7" height="5.7" rx="2"/>
<rect x="660.21" y="770.26" width="5.7" height="5.7" rx="2"/><rect x="653.32" y="772.98" width="5.7" height="5.7" rx="2"/><rect x="655.68" y="776.61" width="5.7" height="5.7" rx="2"/><rect x="662.03" y="778.42" width="5.7" height="5.7" rx="2"/><rect x="568.64" y="772.98" width="5.7" height="5.7" rx="2"/><rect x="567.73" y="776.61" width="5.7" height="5.7" rx="2"/><rect x="580.06" y="775.70" width="5.7" height="5.7" rx="2"/><rect x="581.33" y="781.14" width="5.7" height="5.7" rx="2"/>
<rect x="598.56" y="777.51" width="5.7" height="5.7" rx="2"/><rect x="604.90" y="775.70" width="5.7" height="5.7" rx="2"/><rect x="608.53" y="778.78" width="5.7" height="5.7" rx="2"/><rect x="622.13" y="783.50" width="5.7" height="5.7" rx="2"/><rect x="590.40" y="783.50" width="5.7" height="5.7" rx="2"/><rect x="593.12" y="787.49" width="5.7" height="5.7" rx="2"/><rect x="577.70" y="785.67" width="5.7" height="5.7" rx="2"/><rect x="574.98" y="789.30" width="5.7" height="5.7" rx="2"/>
<rect x="602.73" y="791.11" width="5.7" height="5.7" rx="2"/><rect x="618.50" y="790.21" width="5.7" height="5.7" rx="2"/><rect x="616.69" y="792.93" width="5.7" height="5.7" rx="2"/><rect x="626.66" y="788.94" width="5.7" height="5.7" rx="2"/><rect x="631.20" y="792.93" width="5.7" height="5.7" rx="2"/><rect x="640.27" y="789.66" width="5.7" height="5.7" rx="2"/><rect x="649.33" y="788.39" width="5.7" height="5.7" rx="2"/><rect x="671.09" y="790.21" width="5.7" height="5.7" rx="2"/>
<rect x="588.04" y="796.55" width="5.7" height="5.7" rx="2"/><rect x="652.42" y="799.27" width="5.7" height="5.7" rx="2"/><rect x="578.97" y="811.06" width="5.7" height="5.7" rx="2"/><rect x="618.14" y="811.42" width="5.7" height="5.7" rx="2"/><rect x="629.02" y="808.34" width="5.7" height="5.7" rx="2"/><rect x="655.68" y="809.25" width="5.7" height="5.7" rx="2"/><rect x="656.04" y="817.41" width="5.7" height="5.7" rx="2"/><rect x="568.27" y="821.40" width="5.7" height="5.7" rx="2"/>
<rect x="595.47" y="828.29" width="5.7" height="5.7" rx="2"/><rect x="612.16" y="834.64" width="5.7" height="5.7" rx="2"/><rect x="621.77" y="837.90" width="5.7" height="5.7" rx="2"/><rect x="566.82" y="838.26" width="5.7" height="5.7" rx="2"/><rect x="569.54" y="841.53" width="5.7" height="5.7" rx="2"/><rect x="632.47" y="843.16" width="5.7" height="5.7" rx="2"/><rect x="617.05" y="846.06" width="5.7" height="5.7" rx="2"/><rect x="666.20" y="848.24" width="5.7" height="5.7" rx="2"/>
<rect x="583.69" y="854.22" width="5.7" height="5.7" rx="2"/><rect x="592.75" y="853.13" width="5.7" height="5.7" rx="2"/><rect x="578.97" y="860.02" width="5.7" height="5.7" rx="2"/><rect x="611.25" y="866.37" width="5.7" height="5.7" rx="2"/><rect x="595.47" y="869.09" width="5.7" height="5.7" rx="2"/><rect x="569.91" y="869.45" width="5.7" height="5.7" rx="2"/><rect x="658.04" y="867.82" width="5.7" height="5.7" rx="2"/><rect x="669.28" y="864.92" width="5.7" height="5.7" rx="2"/>
<rect x="595.47" y="887.77" width="5.7" height="5.7" rx="2"/><rect x="624.85" y="895.02" width="5.7" height="5.7" rx="2"/><rect x="629.75" y="895.02" width="5.7" height="5.7" rx="2"/><rect x="463.46" y="937.68" width="5.7" height="5.7" rx="2"/><rect x="448.95" y="1039.41" width="5.7" height="5.7" rx="2"/><rect x="591.85" y="906.31" width="5.7" height="5.7" rx="2"/><rect x="629.75" y="900.33" width="5.7" height="5.7" rx="2"/><rect x="640.63" y="919.00" width="5.7" height="5.7" rx="2"/>
<rect x="668.74" y="936.59" width="5.7" height="5.7" rx="2"/><rect x="668.74" y="945.84" width="5.7" height="5.7" rx="2"/><rect x="652.96" y="947.47" width="5.7" height="5.7" rx="2"/><rect x="619.05" y="977.03" width="5.7" height="5.7" rx="2"/><rect x="670.55" y="988.28" width="5.7" height="5.7" rx="2"/><rect x="573.53" y="1017.83" width="5.7" height="5.7" rx="2"/><rect x="663.84" y="1040.50" width="5.7" height="5.7" rx="2"/><rect x="804.11" y="131.97" width="5.7" height="5.7" rx="2"/>
<rect x="758.96" y="217.02" width="5.7" height="5.7" rx="2"/><rect x="751.70" y="220.82" width="5.7" height="5.7" rx="2"/><rect x="745.54" y="282.48" width="5.7" height="5.7" rx="2"/><rect x="701.83" y="319.29" width="5.7" height="5.7" rx="2"/><rect x="840.56" y="309.86" width="5.7" height="5.7" rx="2"/><rect x="751.34" y="334.21" width="5.7" height="5.7" rx="2"/><rect x="762.22" y="334.21" width="5.7" height="5.7" rx="2"/><rect x="701.11" y="344.18" width="5.7" height="5.7" rx="2"/>
<rect x="744.45" y="345.63" width="5.7" height="5.7" rx="2"/><rect x="795.77" y="349.62" width="5.7" height="5.7" rx="2"/><rect x="734.11" y="355.97" width="5.7" height="5.7" rx="2"/><rect x="738.83" y="363.95" width="5.7" height="5.7" rx="2"/><rect x="700.02" y="373.74" width="5.7" height="5.7" rx="2"/><rect x="701.83" y="380.45" width="5.7" height="5.7" rx="2"/><rect x="742.82" y="397.13" width="5.7" height="5.7" rx="2"/><rect x="788.70" y="400.94" width="5.7" height="5.7" rx="2"/>
<rect x="773.10" y="409.10" width="5.7" height="5.7" rx="2"/><rect x="735.56" y="450.63" width="5.7" height="5.7" rx="2"/><rect x="757.69" y="450.63" width="5.7" height="5.7" rx="2"/><rect x="803.93" y="446.82" width="5.7" height="5.7" rx="2"/><rect x="761.68" y="459.33" width="5.7" height="5.7" rx="2"/><rect x="807.01" y="457.70" width="5.7" height="5.7" rx="2"/><rect x="716.34" y="467.13" width="5.7" height="5.7" rx="2"/><rect x="766.75" y="468.04" width="5.7" height="5.7" rx="2"/>
<rect x="712.71" y="491.25" width="5.7" height="5.7" rx="2"/><rect x="747.71" y="492.70" width="5.7" height="5.7" rx="2"/><rect x="725.41" y="506.84" width="5.7" height="5.7" rx="2"/><rect x="799.03" y="510.83" width="5.7" height="5.7" rx="2"/><rect x="739.01" y="522.07" width="5.7" height="5.7" rx="2"/><rect x="795.77" y="523.89" width="5.7" height="5.7" rx="2"/><rect x="719.60" y="530.42" width="5.7" height="5.7" rx="2"/><rect x="805.92" y="535.49" width="5.7" height="5.7" rx="2"/>
<rect x="862.86" y="394.96" width="5.7" height="5.7" rx="2"/><rect x="867.03" y="423.43" width="5.7" height="5.7" rx="2"/><rect x="942.29" y="427.60" width="5.7" height="5.7" rx="2"/><rect x="865.95" y="436.12" width="5.7" height="5.7" rx="2"/><rect x="841.65" y="441.56" width="5.7" height="5.7" rx="2"/><rect x="943.02" y="443.92" width="5.7" height="5.7" rx="2"/><rect x="866.49" y="460.60" width="5.7" height="5.7" rx="2"/><rect x="922.71" y="462.23" width="5.7" height="5.7" rx="2"/>
<rect x="929.60" y="459.15" width="5.7" height="5.7" rx="2"/><rect x="939.93" y="461.87" width="5.7" height="5.7" rx="2"/><rect x="844.00" y="493.60" width="5.7" height="5.7" rx="2"/><rect x="901.31" y="508.47" width="5.7" height="5.7" rx="2"/><rect x="844.37" y="517.36" width="5.7" height="5.7" rx="2"/><rect x="863.59" y="518.81" width="5.7" height="5.7" rx="2"/><rect x="946.28" y="525.70" width="5.7" height="5.7" rx="2"/><rect x="909.29" y="537.67" width="5.7" height="5.7" rx="2"/>
<rect x="741.37" y="552.40" width="5.7" height="5.7" rx="2"/><rect x="738.10" y="557.48" width="5.7" height="5.7" rx="2"/><rect x="777.09" y="551.50" width="5.7" height="5.7" rx="2"/><rect x="802.11" y="561.83" width="5.7" height="5.7" rx="2"/><rect x="747.35" y="567.27" width="5.7" height="5.7" rx="2"/><rect x="753.33" y="571.81" width="5.7" height="5.7" rx="2"/><rect x="789.06" y="564.19" width="5.7" height="5.7" rx="2"/><rect x="793.05" y="568.36" width="5.7" height="5.7" rx="2"/>
<rect x="702.01" y="576.52" width="5.7" height="5.7" rx="2"/><rect x="803.57" y="576.34" width="5.7" height="5.7" rx="2"/><rect x="708.72" y="583.23" width="5.7" height="5.7" rx="2"/><rect x="778.90" y="582.69" width="5.7" height="5.7" rx="2"/><rect x="792.87" y="586.13" width="5.7" height="5.7" rx="2"/><rect x="703.28" y="588.67" width="5.7" height="5.7" rx="2"/><rect x="709.09" y="591.03" width="5.7" height="5.7" rx="2"/><rect x="715.07" y="597.74" width="5.7" height="5.7" rx="2"/>
<rect x="781.62" y="594.47" width="5.7" height="5.7" rx="2"/><rect x="751.34" y="603.54" width="5.7" height="5.7" rx="2"/><rect x="736.83" y="608.08" width="5.7" height="5.7" rx="2"/><rect x="706.91" y="620.04" width="5.7" height="5.7" rx="2"/><rect x="778.90" y="618.59" width="5.7" height="5.7" rx="2"/><rect x="792.50" y="622.76" width="5.7" height="5.7" rx="2"/><rect x="790.87" y="627.66" width="5.7" height="5.7" rx="2"/><rect x="790.87" y="633.10" width="5.7" height="5.7" rx="2"/>
<rect x="724.14" y="626.39" width="5.7" height="5.7" rx="2"/><rect x="707.45" y="629.47" width="5.7" height="5.7" rx="2"/><rect x="708.72" y="633.46" width="5.7" height="5.7" rx="2"/><rect x="737.92" y="632.74" width="5.7" height="5.7" rx="2"/><rect x="756.24" y="634.37" width="5.7" height="5.7" rx="2"/><rect x="769.84" y="633.46" width="5.7" height="5.7" rx="2"/><rect x="745.90" y="642.35" width="5.7" height="5.7" rx="2"/><rect x="760.77" y="642.35" width="5.7" height="5.7" rx="2"/>
<rect x="775.28" y="642.53" width="5.7" height="5.7" rx="2"/><rect x="778.54" y="641.26" width="5.7" height="5.7" rx="2"/><rect x="709.63" y="643.62" width="5.7" height="5.7" rx="2"/><rect x="705.10" y="645.43" width="5.7" height="5.7" rx="2"/><rect x="745.90" y="658.85" width="5.7" height="5.7" rx="2"/><rect x="778.18" y="657.94" width="5.7" height="5.7" rx="2"/><rect x="787.97" y="659.76" width="5.7" height="5.7" rx="2"/><rect x="750.43" y="669.19" width="5.7" height="5.7" rx="2"/>
<rect x="787.79" y="675.53" width="5.7" height="5.7" rx="2"/><rect x="748.26" y="692.58" width="5.7" height="5.7" rx="2"/><rect x="797.58" y="692.94" width="5.7" height="5.7" rx="2"/><rect x="721.42" y="698.38" width="5.7" height="5.7" rx="2"/><rect x="757.87" y="700.20" width="5.7" height="5.7" rx="2"/><rect x="780.72" y="702.37" width="5.7" height="5.7" rx="2"/><rect x="805.38" y="698.38" width="5.7" height="5.7" rx="2"/><rect x="742.82" y="708.36" width="5.7" height="5.7" rx="2"/>
<rect x="711.99" y="714.16" width="5.7" height="5.7" rx="2"/><rect x="788.33" y="713.07" width="5.7" height="5.7" rx="2"/><rect x="775.09" y="715.97" width="5.7" height="5.7" rx="2"/><rect x="733.75" y="729.75" width="5.7" height="5.7" rx="2"/><rect x="717.79" y="734.47" width="5.7" height="5.7" rx="2"/><rect x="742.63" y="741.90" width="5.7" height="5.7" rx="2"/><rect x="702.74" y="758.41" width="5.7" height="5.7" rx="2"/><rect x="756.96" y="758.59" width="5.7" height="5.7" rx="2"/>
<rect x="793.59" y="758.95" width="5.7" height="5.7" rx="2"/><rect x="946.28" y="555.49" width="5.7" height="5.7" rx="2"/><rect x="910.19" y="559.66" width="5.7" height="5.7" rx="2"/><rect x="925.43" y="563.47" width="5.7" height="5.7" rx="2"/><rect x="850.17" y="583.23" width="5.7" height="5.7" rx="2"/><rect x="872.84" y="583.96" width="5.7" height="5.7" rx="2"/><rect x="842.37" y="589.22" width="5.7" height="5.7" rx="2"/><rect x="842.92" y="595.56" width="5.7" height="5.7" rx="2"/>
<rect x="919.26" y="597.19" width="5.7" height="5.7" rx="2"/><rect x="849.99" y="604.45" width="5.7" height="5.7" rx="2"/><rect x="861.23" y="610.07" width="5.7" height="5.7" rx="2"/><rect x="875.92" y="615.51" width="5.7" height="5.7" rx="2"/><rect x="911.28" y="616.78" width="5.7" height="5.7" rx="2"/><rect x="946.64" y="620.22" width="5.7" height="5.7" rx="2"/><rect x="913.82" y="630.38" width="5.7" height="5.7" rx="2"/><rect x="909.11" y="648.51" width="5.7" height="5.7" rx="2"/>
<rect x="857.42" y="664.29" width="5.7" height="5.7" rx="2"/><rect x="874.83" y="663.02" width="5.7" height="5.7" rx="2"/><rect x="899.31" y="663.20" width="5.7" height="5.7" rx="2"/><rect x="852.89" y="697.48" width="5.7" height="5.7" rx="2"/><rect x="857.42" y="700.56" width="5.7" height="5.7" rx="2"/><rect x="863.77" y="702.92" width="5.7" height="5.7" rx="2"/><rect x="922.34" y="702.73" width="5.7" height="5.7" rx="2"/><rect x="843.28" y="707.45" width="5.7" height="5.7" rx="2"/>
<rect x="840.56" y="715.61" width="5.7" height="5.7" rx="2"/><rect x="848.54" y="724.50" width="5.7" height="5.7" rx="2"/><rect x="941.20" y="723.77" width="5.7" height="5.7" rx="2"/><rect x="882.45" y="733.74" width="5.7" height="5.7" rx="2"/><rect x="901.49" y="751.88" width="5.7" height="5.7" rx="2"/><rect x="931.77" y="766.38" width="5.7" height="5.7" rx="2"/><rect x="779.45" y="777.49" width="5.7" height="5.7" rx="2"/><rect x="805.02" y="773.86" width="5.7" height="5.7" rx="2"/>
<rect x="704.19" y="814.30" width="5.7" height="5.7" rx="2"/><rect x="717.07" y="821.38" width="5.7" height="5.7" rx="2"/><rect x="713.80" y="831.89" width="5.7" height="5.7" rx="2"/><rect x="747.89" y="825.91" width="5.7" height="5.7" rx="2"/><rect x="785.25" y="837.15" width="5.7" height="5.7" rx="2"/><rect x="729.03" y="846.40" width="5.7" height="5.7" rx="2"/><rect x="803.20" y="851.84" width="5.7" height="5.7" rx="2"/><rect x="708.72" y="858.19" width="5.7" height="5.7" rx="2"/>
<rect x="717.97" y="864.90" width="5.7" height="5.7" rx="2"/><rect x="715.07" y="888.83" width="5.7" height="5.7" rx="2"/><rect x="939.75" y="770.96" width="5.7" height="5.7" rx="2"/><rect x="884.26" y="781.48" width="5.7" height="5.7" rx="2"/><rect x="908.56" y="780.39" width="5.7" height="5.7" rx="2"/><rect x="947.19" y="788.01" width="5.7" height="5.7" rx="2"/><rect x="859.42" y="823.55" width="5.7" height="5.7" rx="2"/><rect x="889.70" y="857.46" width="5.7" height="5.7" rx="2"/>
<rect x="889.70" y="881.04" width="5.7" height="5.7" rx="2"/><rect x="875.38" y="924.01" width="5.7" height="5.7" rx="2"/><rect x="1002.77" y="144.71" width="5.7" height="5.7" rx="2"/><rect x="1027.80" y="237.74" width="5.7" height="5.7" rx="2"/><rect x="1053.73" y="259.14" width="5.7" height="5.7" rx="2"/><rect x="1037.22" y="264.94" width="5.7" height="5.7" rx="2"/><rect x="1024.17" y="275.46" width="5.7" height="5.7" rx="2"/><rect x="1044.30" y="280.36" width="5.7" height="5.7" rx="2"/>
<rect x="1054.27" y="278.54" width="5.7" height="5.7" rx="2"/><rect x="1053.55" y="287.97" width="5.7" height="5.7" rx="2"/><rect x="1076.39" y="287.97" width="5.7" height="5.7" rx="2"/><rect x="1082.38" y="287.97" width="5.7" height="5.7" rx="2"/><rect x="999.69" y="311.18" width="5.7" height="5.7" rx="2"/><rect x="1024.17" y="311.73" width="5.7" height="5.7" rx="2"/><rect x="1072.77" y="309.01" width="5.7" height="5.7" rx="2"/><rect x="1074.58" y="314.81" width="5.7" height="5.7" rx="2"/>
<rect x="1041.03" y="318.44" width="5.7" height="5.7" rx="2"/><rect x="1044.30" y="324.42" width="5.7" height="5.7" rx="2"/><rect x="976.29" y="321.34" width="5.7" height="5.7" rx="2"/><rect x="984.27" y="321.70" width="5.7" height="5.7" rx="2"/><rect x="996.60" y="325.69" width="5.7" height="5.7" rx="2"/><rect x="1000.78" y="327.50" width="5.7" height="5.7" rx="2"/><rect x="1059.53" y="341.11" width="5.7" height="5.7" rx="2"/><rect x="1196.80" y="151.60" width="5.7" height="5.7" rx="2"/>
<rect x="1124.09" y="216.34" width="5.7" height="5.7" rx="2"/><rect x="1190.09" y="219.24" width="5.7" height="5.7" rx="2"/><rect x="1217.11" y="230.85" width="5.7" height="5.7" rx="2"/><rect x="1152.74" y="242.27" width="5.7" height="5.7" rx="2"/><rect x="1129.16" y="244.99" width="5.7" height="5.7" rx="2"/><rect x="1182.84" y="262.77" width="5.7" height="5.7" rx="2"/><rect x="1165.43" y="271.83" width="5.7" height="5.7" rx="2"/><rect x="1174.86" y="270.93" width="5.7" height="5.7" rx="2"/>
<rect x="1140.41" y="282.17" width="5.7" height="5.7" rx="2"/><rect x="1203.51" y="281.08" width="5.7" height="5.7" rx="2"/><rect x="1169.24" y="287.61" width="5.7" height="5.7" rx="2"/><rect x="1114.11" y="295.77" width="5.7" height="5.7" rx="2"/><rect x="1115.38" y="302.12" width="5.7" height="5.7" rx="2"/><rect x="1200.07" y="299.94" width="5.7" height="5.7" rx="2"/><rect x="1136.78" y="315.35" width="5.7" height="5.7" rx="2"/><rect x="1176.13" y="325.33" width="5.7" height="5.7" rx="2"/>
<rect x="1164.34" y="332.04" width="5.7" height="5.7" rx="2"/><rect x="1160.72" y="335.66" width="5.7" height="5.7" rx="2"/><rect x="1191.00" y="332.58" width="5.7" height="5.7" rx="2"/><rect x="1213.49" y="329.68" width="5.7" height="5.7" rx="2"/><rect x="1220.92" y="333.31" width="5.7" height="5.7" rx="2"/><rect x="1152.56" y="340.20" width="5.7" height="5.7" rx="2"/><rect x="1187.92" y="339.84" width="5.7" height="5.7" rx="2"/><rect x="1206.42" y="338.02" width="5.7" height="5.7" rx="2"/>
<rect x="980.28" y="788.96" width="5.7" height="5.7" rx="2"/><rect x="988.44" y="790.41" width="5.7" height="5.7" rx="2"/><rect x="990.26" y="794.77" width="5.7" height="5.7" rx="2"/><rect x="1001.14" y="791.68" width="5.7" height="5.7" rx="2"/><rect x="1013.47" y="788.96" width="5.7" height="5.7" rx="2"/><rect x="1023.81" y="788.06" width="5.7" height="5.7" rx="2"/><rect x="1042.85" y="788.96" width="5.7" height="5.7" rx="2"/><rect x="1047.02" y="791.68" width="5.7" height="5.7" rx="2"/>
<rect x="1054.63" y="794.04" width="5.7" height="5.7" rx="2"/><rect x="1059.53" y="789.87" width="5.7" height="5.7" rx="2"/><rect x="1064.97" y="792.59" width="5.7" height="5.7" rx="2"/><rect x="1075.12" y="795.31" width="5.7" height="5.7" rx="2"/><rect x="1077.30" y="787.51" width="5.7" height="5.7" rx="2"/><rect x="983.55" y="804.38" width="5.7" height="5.7" rx="2"/><rect x="1019.27" y="805.28" width="5.7" height="5.7" rx="2"/><rect x="1028.34" y="806.19" width="5.7" height="5.7" rx="2"/>
<rect x="1020.18" y="809.82" width="5.7" height="5.7" rx="2"/><rect x="1028.34" y="810.36" width="5.7" height="5.7" rx="2"/><rect x="1039.22" y="807.46" width="5.7" height="5.7" rx="2"/><rect x="1035.59" y="812.54" width="5.7" height="5.7" rx="2"/><rect x="1043.21" y="813.81" width="5.7" height="5.7" rx="2"/><rect x="1064.97" y="804.01" width="5.7" height="5.7" rx="2"/><rect x="1074.04" y="806.73" width="5.7" height="5.7" rx="2"/><rect x="1069.14" y="811.63" width="5.7" height="5.7" rx="2"/>
<rect x="1064.61" y="814.35" width="5.7" height="5.7" rx="2"/><rect x="1083.29" y="813.81" width="5.7" height="5.7" rx="2"/><rect x="977.20" y="815.80" width="5.7" height="5.7" rx="2"/><rect x="994.79" y="817.98" width="5.7" height="5.7" rx="2"/><rect x="991.71" y="822.51" width="5.7" height="5.7" rx="2"/><rect x="999.32" y="824.32" width="5.7" height="5.7" rx="2"/><rect x="1018.37" y="815.26" width="5.7" height="5.7" rx="2"/><rect x="1016.55" y="819.79" width="5.7" height="5.7" rx="2"/>
<rect x="1011.47" y="825.59" width="5.7" height="5.7" rx="2"/><rect x="1055.54" y="816.71" width="5.7" height="5.7" rx="2"/><rect x="1058.26" y="818.52" width="5.7" height="5.7" rx="2"/><rect x="1040.49" y="821.06" width="5.7" height="5.7" rx="2"/><rect x="1066.06" y="822.87" width="5.7" height="5.7" rx="2"/><rect x="977.20" y="830.13" width="5.7" height="5.7" rx="2"/><rect x="992.07" y="830.67" width="5.7" height="5.7" rx="2"/><rect x="996.60" y="833.39" width="5.7" height="5.7" rx="2"/>
<rect x="986.63" y="836.11" width="5.7" height="5.7" rx="2"/><rect x="995.70" y="837.56" width="5.7" height="5.7" rx="2"/><rect x="1015.10" y="831.94" width="5.7" height="5.7" rx="2"/><rect x="1009.84" y="839.19" width="5.7" height="5.7" rx="2"/><rect x="1043.21" y="831.22" width="5.7" height="5.7" rx="2"/><rect x="1054.63" y="831.94" width="5.7" height="5.7" rx="2"/><rect x="1022.90" y="845.00" width="5.7" height="5.7" rx="2"/><rect x="1050.64" y="843.73" width="5.7" height="5.7" rx="2"/>
<rect x="1056.99" y="845.54" width="5.7" height="5.7" rx="2"/><rect x="1072.77" y="845.54" width="5.7" height="5.7" rx="2"/><rect x="1035.59" y="849.71" width="5.7" height="5.7" rx="2"/><rect x="1040.13" y="854.25" width="5.7" height="5.7" rx="2"/><rect x="997.51" y="853.70" width="5.7" height="5.7" rx="2"/><rect x="1017.46" y="854.61" width="5.7" height="5.7" rx="2"/><rect x="1052.28" y="853.88" width="5.7" height="5.7" rx="2"/><rect x="1060.98" y="853.88" width="5.7" height="5.7" rx="2"/>
<rect x="1070.59" y="854.61" width="5.7" height="5.7" rx="2"/><rect x="1003.31" y="865.13" width="5.7" height="5.7" rx="2"/><rect x="1008.94" y="863.31" width="5.7" height="5.7" rx="2"/><rect x="1054.63" y="863.31" width="5.7" height="5.7" rx="2"/><rect x="1056.99" y="866.94" width="5.7" height="5.7" rx="2"/><rect x="1019.82" y="870.20" width="5.7" height="5.7" rx="2"/><rect x="992.62" y="872.38" width="5.7" height="5.7" rx="2"/><rect x="1047.38" y="879.27" width="5.7" height="5.7" rx="2"/>
<rect x="1000.78" y="885.07" width="5.7" height="5.7" rx="2"/><rect x="1009.84" y="886.89" width="5.7" height="5.7" rx="2"/><rect x="1016.19" y="886.52" width="5.7" height="5.7" rx="2"/><rect x="1034.14" y="888.34" width="5.7" height="5.7" rx="2"/><rect x="994.25" y="892.87" width="5.7" height="5.7" rx="2"/><rect x="984.82" y="895.59" width="5.7" height="5.7" rx="2"/><rect x="1076.21" y="893.23" width="5.7" height="5.7" rx="2"/><rect x="980.28" y="910.46" width="5.7" height="5.7" rx="2"/>
<rect x="1065.33" y="913.00" width="5.7" height="5.7" rx="2"/><rect x="1025.62" y="919.89" width="5.7" height="5.7" rx="2"/><rect x="1043.21" y="930.41" width="5.7" height="5.7" rx="2"/><rect x="1074.22" y="933.31" width="5.7" height="5.7" rx="2"/><rect x="1047.02" y="942.56" width="5.7" height="5.7" rx="2"/><rect x="1054.63" y="942.20" width="5.7" height="5.7" rx="2"/><rect x="1059.17" y="939.48" width="5.7" height="5.7" rx="2"/><rect x="976.11" y="1006.21" width="5.7" height="5.7" rx="2"/>
<rect x="1084.55" y="1004.03" width="5.7" height="5.7" rx="2"/><rect x="1116.11" y="792.59" width="5.7" height="5.7" rx="2"/><rect x="1116.83" y="803.83" width="5.7" height="5.7" rx="2"/><rect x="1129.89" y="797.12" width="5.7" height="5.7" rx="2"/><rect x="1136.24" y="801.66" width="5.7" height="5.7" rx="2"/><rect x="1140.77" y="800.75" width="5.7" height="5.7" rx="2"/><rect x="1142.22" y="796.22" width="5.7" height="5.7" rx="2"/><rect x="1155.28" y="798.94" width="5.7" height="5.7" rx="2"/>
<rect x="1166.70" y="798.03" width="5.7" height="5.7" rx="2"/><rect x="1180.66" y="798.03" width="5.7" height="5.7" rx="2"/><rect x="1191.00" y="789.87" width="5.7" height="5.7" rx="2"/><rect x="1209.68" y="789.87" width="5.7" height="5.7" rx="2"/><rect x="1214.76" y="800.21" width="5.7" height="5.7" rx="2"/><rect x="1222.55" y="802.93" width="5.7" height="5.7" rx="2"/><rect x="1205.69" y="809.82" width="5.7" height="5.7" rx="2"/><rect x="1185.56" y="823.96" width="5.7" height="5.7" rx="2"/>
<rect x="1144.03" y="829.76" width="5.7" height="5.7" rx="2"/><rect x="1204.78" y="834.30" width="5.7" height="5.7" rx="2"/><rect x="1214.94" y="832.12" width="5.7" height="5.7" rx="2"/><rect x="1201.52" y="861.14" width="5.7" height="5.7" rx="2"/><rect x="1198.98" y="875.46" width="5.7" height="5.7" rx="2"/><rect x="1187.74" y="891.96" width="5.7" height="5.7" rx="2"/><rect x="1192.63" y="906.83" width="5.7" height="5.7" rx="2"/><rect x="1127.53" y="922.61" width="5.7" height="5.7" rx="2"/>
<rect x="1220.92" y="933.13" width="5.7" height="5.7" rx="2"/><rect x="1204.24" y="951.08" width="5.7" height="5.7" rx="2"/><rect x="1037.65" y="1019.35" width="5.7" height="5.7" rx="2"/><rect x="1123.91" y="349.89" width="5.7" height="5.7" rx="2"/><rect x="1129.89" y="350.81" width="5.7" height="5.7" rx="2"/><rect x="1131.27" y="354.49" width="5.7" height="5.7" rx="2"/><rect x="1212.67" y="350.81" width="5.7" height="5.7" rx="2"/><rect x="1206.70" y="355.41" width="5.7" height="5.7" rx="2"/>
<rect x="1125.75" y="363.23" width="5.7" height="5.7" rx="2"/><rect x="1123.45" y="367.37" width="5.7" height="5.7" rx="2"/><rect x="1117.93" y="372.89" width="5.7" height="5.7" rx="2"/><rect x="1152.15" y="360.93" width="5.7" height="5.7" rx="2"/><rect x="1164.38" y="362.77" width="5.7" height="5.7" rx="2"/><rect x="1155.64" y="367.37" width="5.7" height="5.7" rx="2"/><rect x="1154.26" y="372.89" width="5.7" height="5.7" rx="2"/><rect x="1171.74" y="369.67" width="5.7" height="5.7" rx="2"/>
<rect x="1187.19" y="365.07" width="5.7" height="5.7" rx="2"/><rect x="1183.24" y="372.43" width="5.7" height="5.7" rx="2"/><rect x="1185.54" y="375.65" width="5.7" height="5.7" rx="2"/><rect x="1212.21" y="362.95" width="5.7" height="5.7" rx="2"/><rect x="1210.10" y="372.89" width="5.7" height="5.7" rx="2"/><rect x="1141.84" y="377.49" width="5.7" height="5.7" rx="2"/><rect x="1139.54" y="380.70" width="5.7" height="5.7" rx="2"/><rect x="1132.65" y="385.30" width="5.7" height="5.7" rx="2"/>
<rect x="1116.55" y="385.03" width="5.7" height="5.7" rx="2"/><rect x="1125.10" y="389.44" width="5.7" height="5.7" rx="2"/><rect x="1143.96" y="391.28" width="5.7" height="5.7" rx="2"/><rect x="1164.20" y="376.57" width="5.7" height="5.7" rx="2"/><rect x="1163.00" y="387.60" width="5.7" height="5.7" rx="2"/><rect x="1167.60" y="390.36" width="5.7" height="5.7" rx="2"/><rect x="1174.50" y="386.68" width="5.7" height="5.7" rx="2"/><rect x="1175.70" y="390.82" width="5.7" height="5.7" rx="2"/>
<rect x="1214.24" y="381.16" width="5.7" height="5.7" rx="2"/><rect x="1211.11" y="392.02" width="5.7" height="5.7" rx="2"/><rect x="1218.65" y="392.20" width="5.7" height="5.7" rx="2"/><rect x="1218.19" y="396.34" width="5.7" height="5.7" rx="2"/><rect x="1114.98" y="399.10" width="5.7" height="5.7" rx="2"/><rect x="1130.35" y="405.08" width="5.7" height="5.7" rx="2"/><rect x="1120.23" y="408.76" width="5.7" height="5.7" rx="2"/><rect x="1139.54" y="406.92" width="5.7" height="5.7" rx="2"/>
<rect x="1150.86" y="406.46" width="5.7" height="5.7" rx="2"/><rect x="1173.58" y="403.70" width="5.7" height="5.7" rx="2"/><rect x="1203.48" y="399.10" width="5.7" height="5.7" rx="2"/><rect x="1203.48" y="404.62" width="5.7" height="5.7" rx="2"/><rect x="1203.94" y="409.22" width="5.7" height="5.7" rx="2"/><rect x="1203.48" y="412.44" width="5.7" height="5.7" rx="2"/><rect x="1211.11" y="411.80" width="5.7" height="5.7" rx="2"/><rect x="1151.32" y="413.36" width="5.7" height="5.7" rx="2"/>
<rect x="1157.94" y="411.52" width="5.7" height="5.7" rx="2"/><rect x="1162.08" y="412.90" width="5.7" height="5.7" rx="2"/><rect x="1174.04" y="411.80" width="5.7" height="5.7" rx="2"/><rect x="1185.08" y="410.88" width="5.7" height="5.7" rx="2"/><rect x="1192.16" y="413.18" width="5.7" height="5.7" rx="2"/><rect x="1116.55" y="423.02" width="5.7" height="5.7" rx="2"/><rect x="1164.20" y="419.34" width="5.7" height="5.7" rx="2"/><rect x="1182.32" y="418.88" width="5.7" height="5.7" rx="2"/>
<rect x="1185.54" y="422.84" width="5.7" height="5.7" rx="2"/><rect x="1204.40" y="422.56" width="5.7" height="5.7" rx="2"/><rect x="1197.04" y="427.16" width="5.7" height="5.7" rx="2"/><rect x="1196.12" y="432.22" width="5.7" height="5.7" rx="2"/><rect x="1167.14" y="428.54" width="5.7" height="5.7" rx="2"/><rect x="1182.50" y="432.03" width="5.7" height="5.7" rx="2"/><rect x="1221.41" y="426.24" width="5.7" height="5.7" rx="2"/><rect x="1223.25" y="429.46" width="5.7" height="5.7" rx="2"/>
<rect x="1212.21" y="434.24" width="5.7" height="5.7" rx="2"/><rect x="1140.46" y="435.44" width="5.7" height="5.7" rx="2"/><rect x="1134.95" y="438.66" width="5.7" height="5.7" rx="2"/><rect x="1134.95" y="442.34" width="5.7" height="5.7" rx="2"/><rect x="1139.08" y="444.18" width="5.7" height="5.7" rx="2"/><rect x="1132.19" y="447.40" width="5.7" height="5.7" rx="2"/><rect x="1118.39" y="441.42" width="5.7" height="5.7" rx="2"/><rect x="1127.86" y="441.88" width="5.7" height="5.7" rx="2"/>
<rect x="1122.99" y="449.70" width="5.7" height="5.7" rx="2"/><rect x="1155.64" y="435.90" width="5.7" height="5.7" rx="2"/><rect x="1159.32" y="438.66" width="5.7" height="5.7" rx="2"/><rect x="1163.46" y="440.31" width="5.7" height="5.7" rx="2"/><rect x="1180.94" y="437.74" width="5.7" height="5.7" rx="2"/><rect x="1178.18" y="443.26" width="5.7" height="5.7" rx="2"/><rect x="1190.87" y="440.04" width="5.7" height="5.7" rx="2"/><rect x="1200.07" y="437.28" width="5.7" height="5.7" rx="2"/>
<rect x="1201.18" y="446.48" width="5.7" height="5.7" rx="2"/><rect x="1166.68" y="450.16" width="5.7" height="5.7" rx="2"/><rect x="1220.49" y="452.46" width="5.7" height="5.7" rx="2"/><rect x="1136.32" y="455.21" width="5.7" height="5.7" rx="2"/><rect x="1166.22" y="456.13" width="5.7" height="5.7" rx="2"/><rect x="1171.74" y="459.81" width="5.7" height="5.7" rx="2"/><rect x="1192.16" y="457.79" width="5.7" height="5.7" rx="2"/><rect x="1209.92" y="457.05" width="5.7" height="5.7" rx="2"/>
<rect x="1206.70" y="461.19" width="5.7" height="5.7" rx="2"/><rect x="1140.00" y="460.73" width="5.7" height="5.7" rx="2"/><rect x="1117.93" y="463.03" width="5.7" height="5.7" rx="2"/><rect x="1139.54" y="464.61" width="5.7" height="5.7" rx="2"/><rect x="1207.16" y="465.07" width="5.7" height="5.7" rx="2"/><rect x="1136.78" y="468.75" width="5.7" height="5.7" rx="2"/><rect x="1137.24" y="472.89" width="5.7" height="5.7" rx="2"/><rect x="1165.76" y="469.67" width="5.7" height="5.7" rx="2"/>
<rect x="1166.22" y="472.89" width="5.7" height="5.7" rx="2"/><rect x="1193.36" y="468.75" width="5.7" height="5.7" rx="2"/><rect x="1209.00" y="470.13" width="5.7" height="5.7" rx="2"/><rect x="1220.95" y="474.73" width="5.7" height="5.7" rx="2"/><rect x="1154.26" y="475.65" width="5.7" height="5.7" rx="2"/><rect x="1122.07" y="479.33" width="5.7" height="5.7" rx="2"/><rect x="1128.05" y="480.25" width="5.7" height="5.7" rx="2"/><rect x="1123.91" y="484.85" width="5.7" height="5.7" rx="2"/>
<rect x="1125.75" y="488.99" width="5.7" height="5.7" rx="2"/><rect x="1116.55" y="489.45" width="5.7" height="5.7" rx="2"/><rect x="1141.38" y="481.63" width="5.7" height="5.7" rx="2"/><rect x="1147.82" y="483.47" width="5.7" height="5.7" rx="2"/><rect x="1152.42" y="479.33" width="5.7" height="5.7" rx="2"/><rect x="1151.50" y="483.93" width="5.7" height="5.7" rx="2"/><rect x="1174.50" y="482.09" width="5.7" height="5.7" rx="2"/><rect x="1179.10" y="481.63" width="5.7" height="5.7" rx="2"/>
<rect x="1182.78" y="483.93" width="5.7" height="5.7" rx="2"/><rect x="1172.66" y="487.61" width="5.7" height="5.7" rx="2"/><rect x="1191.06" y="483.93" width="5.7" height="5.7" rx="2"/><rect x="1186.46" y="488.07" width="5.7" height="5.7" rx="2"/><rect x="1186.92" y="492.21" width="5.7" height="5.7" rx="2"/><rect x="1209.92" y="484.85" width="5.7" height="5.7" rx="2"/><rect x="1209.00" y="488.99" width="5.7" height="5.7" rx="2"/><rect x="1217.73" y="491.75" width="5.7" height="5.7" rx="2"/>
<rect x="1209.00" y="495.43" width="5.7" height="5.7" rx="2"/><rect x="1130.81" y="497.73" width="5.7" height="5.7" rx="2"/><rect x="1140.00" y="497.73" width="5.7" height="5.7" rx="2"/><rect x="1151.50" y="496.81" width="5.7" height="5.7" rx="2"/><rect x="1157.02" y="495.43" width="5.7" height="5.7" rx="2"/><rect x="1166.22" y="495.89" width="5.7" height="5.7" rx="2"/><rect x="1167.60" y="500.49" width="5.7" height="5.7" rx="2"/><rect x="1161.62" y="501.87" width="5.7" height="5.7" rx="2"/>
<rect x="1160.70" y="505.54" width="5.7" height="5.7" rx="2"/><rect x="1169.90" y="504.62" width="5.7" height="5.7" rx="2"/><rect x="1192.90" y="494.51" width="5.7" height="5.7" rx="2"/><rect x="1191.06" y="500.49" width="5.7" height="5.7" rx="2"/><rect x="1186.92" y="495.43" width="5.7" height="5.7" rx="2"/><rect x="1215.43" y="500.49" width="5.7" height="5.7" rx="2"/><rect x="1205.32" y="502.78" width="5.7" height="5.7" rx="2"/><rect x="1204.86" y="506.92" width="5.7" height="5.7" rx="2"/>
<rect x="1178.18" y="506.92" width="5.7" height="5.7" rx="2"/><rect x="1184.62" y="506.92" width="5.7" height="5.7" rx="2"/><rect x="1192.90" y="507.38" width="5.7" height="5.7" rx="2"/><rect x="1214.05" y="508.76" width="5.7" height="5.7" rx="2"/><rect x="1121.61" y="506.00" width="5.7" height="5.7" rx="2"/><rect x="1123.91" y="512.90" width="5.7" height="5.7" rx="2"/><rect x="1132.19" y="515.20" width="5.7" height="5.7" rx="2"/><rect x="1130.81" y="520.26" width="5.7" height="5.7" rx="2"/>
<rect x="1122.53" y="519.34" width="5.7" height="5.7" rx="2"/><rect x="1157.94" y="512.90" width="5.7" height="5.7" rx="2"/><rect x="1164.38" y="510.14" width="5.7" height="5.7" rx="2"/><rect x="1167.60" y="512.44" width="5.7" height="5.7" rx="2"/><rect x="1177.26" y="512.44" width="5.7" height="5.7" rx="2"/><rect x="1185.08" y="511.98" width="5.7" height="5.7" rx="2"/><rect x="1185.08" y="517.04" width="5.7" height="5.7" rx="2"/><rect x="1168.98" y="518.42" width="5.7" height="5.7" rx="2"/>
<rect x="1175.42" y="522.10" width="5.7" height="5.7" rx="2"/><rect x="1200.26" y="517.96" width="5.7" height="5.7" rx="2"/><rect x="1199.34" y="523.02" width="5.7" height="5.7" rx="2"/><rect x="1206.24" y="512.44" width="5.7" height="5.7" rx="2"/><rect x="1208.54" y="523.48" width="5.7" height="5.7" rx="2"/><rect x="1212.21" y="527.16" width="5.7" height="5.7" rx="2"/><rect x="1204.86" y="525.78" width="5.7" height="5.7" rx="2"/><rect x="1116.09" y="525.32" width="5.7" height="5.7" rx="2"/>
<rect x="1127.59" y="527.16" width="5.7" height="5.7" rx="2"/><rect x="1122.07" y="532.68" width="5.7" height="5.7" rx="2"/><rect x="1118.85" y="534.98" width="5.7" height="5.7" rx="2"/><rect x="1126.67" y="535.90" width="5.7" height="5.7" rx="2"/><rect x="1149.66" y="522.10" width="5.7" height="5.7" rx="2"/><rect x="1152.42" y="525.78" width="5.7" height="5.7" rx="2"/><rect x="1162.54" y="527.16" width="5.7" height="5.7" rx="2"/><rect x="1153.34" y="534.06" width="5.7" height="5.7" rx="2"/>
<rect x="1197.50" y="531.76" width="5.7" height="5.7" rx="2"/><rect x="1177.72" y="535.90" width="5.7" height="5.7" rx="2"/><rect x="1182.78" y="532.68" width="5.7" height="5.7" rx="2"/><rect x="1222.79" y="528.54" width="5.7" height="5.7" rx="2"/><rect x="1222.79" y="532.68" width="5.7" height="5.7" rx="2"/><rect x="1215.89" y="539.12" width="5.7" height="5.7" rx="2"/><rect x="1132.65" y="540.04" width="5.7" height="5.7" rx="2"/><rect x="1138.62" y="542.34" width="5.7" height="5.7" rx="2"/>
<rect x="1121.15" y="543.26" width="5.7" height="5.7" rx="2"/><rect x="1119.31" y="546.94" width="5.7" height="5.7" rx="2"/><rect x="1123.91" y="547.86" width="5.7" height="5.7" rx="2"/><rect x="1132.65" y="550.16" width="5.7" height="5.7" rx="2"/><rect x="1132.65" y="553.84" width="5.7" height="5.7" rx="2"/><rect x="1168.06" y="544.18" width="5.7" height="5.7" rx="2"/><rect x="1171.74" y="541.42" width="5.7" height="5.7" rx="2"/><rect x="1145.98" y="552.46" width="5.7" height="5.7" rx="2"/>
<rect x="1203.02" y="546.48" width="5.7" height="5.7" rx="2"/><rect x="1201.18" y="552.92" width="5.7" height="5.7" rx="2"/><rect x="1194.74" y="554.76" width="5.7" height="5.7" rx="2"/><rect x="1208.08" y="556.60" width="5.7" height="5.7" rx="2"/><rect x="1120.69" y="554.76" width="5.7" height="5.7" rx="2"/><rect x="1123.91" y="560.74" width="5.7" height="5.7" rx="2"/><rect x="1132.19" y="562.12" width="5.7" height="5.7" rx="2"/><rect x="1163.46" y="559.82" width="5.7" height="5.7" rx="2"/>
<rect x="1161.62" y="563.50" width="5.7" height="5.7" rx="2"/><rect x="1174.50" y="560.28" width="5.7" height="5.7" rx="2"/><rect x="1180.02" y="561.66" width="5.7" height="5.7" rx="2"/><rect x="1186.46" y="564.42" width="5.7" height="5.7" rx="2"/><rect x="1193.82" y="561.20" width="5.7" height="5.7" rx="2"/><rect x="1200.26" y="561.66" width="5.7" height="5.7" rx="2"/><rect x="1208.54" y="562.58" width="5.7" height="5.7" rx="2"/><rect x="1222.33" y="563.96" width="5.7" height="5.7" rx="2"/>
<rect x="1171.28" y="566.26" width="5.7" height="5.7" rx="2"/><rect x="1121.61" y="568.56" width="5.7" height="5.7" rx="2"/><rect x="1168.06" y="571.32" width="5.7" height="5.7" rx="2"/><rect x="1180.48" y="570.86" width="5.7" height="5.7" rx="2"/><rect x="1209.46" y="568.10" width="5.7" height="5.7" rx="2"/><rect x="1216.81" y="569.94" width="5.7" height="5.7" rx="2"/><rect x="1116.09" y="575.46" width="5.7" height="5.7" rx="2"/><rect x="1112.87" y="575.46" width="5.7" height="5.7" rx="2"/>
<rect x="1198.88" y="574.08" width="5.7" height="5.7" rx="2"/><rect x="1190.14" y="576.84" width="5.7" height="5.7" rx="2"/><rect x="1193.36" y="580.51" width="5.7" height="5.7" rx="2"/><rect x="1159.78" y="575.92" width="5.7" height="5.7" rx="2"/><rect x="1158.86" y="580.05" width="5.7" height="5.7" rx="2"/><rect x="1133.11" y="578.21" width="5.7" height="5.7" rx="2"/><rect x="1141.84" y="579.59" width="5.7" height="5.7" rx="2"/><rect x="1148.28" y="581.89" width="5.7" height="5.7" rx="2"/>
<rect x="1168.06" y="580.51" width="5.7" height="5.7" rx="2"/><rect x="1169.90" y="584.65" width="5.7" height="5.7" rx="2"/><rect x="1215.89" y="579.59" width="5.7" height="5.7" rx="2"/><rect x="1116.09" y="581.89" width="5.7" height="5.7" rx="2"/><rect x="1127.59" y="582.81" width="5.7" height="5.7" rx="2"/><rect x="1182.78" y="583.73" width="5.7" height="5.7" rx="2"/><rect x="1154.72" y="583.73" width="5.7" height="5.7" rx="2"/><rect x="1123.45" y="589.91" width="5.7" height="5.7" rx="2"/>
<rect x="1128.51" y="587.61" width="5.7" height="5.7" rx="2"/><rect x="1135.41" y="591.29" width="5.7" height="5.7" rx="2"/><rect x="1138.62" y="588.07" width="5.7" height="5.7" rx="2"/><rect x="1151.04" y="590.83" width="5.7" height="5.7" rx="2"/><rect x="1161.62" y="587.61" width="5.7" height="5.7" rx="2"/><rect x="1164.38" y="593.59" width="5.7" height="5.7" rx="2"/><rect x="1169.90" y="594.05" width="5.7" height="5.7" rx="2"/><rect x="1176.34" y="591.75" width="5.7" height="5.7" rx="2"/>
<rect x="1186.46" y="588.07" width="5.7" height="5.7" rx="2"/><rect x="1194.74" y="590.83" width="5.7" height="5.7" rx="2"/><rect x="1209.92" y="589.91" width="5.7" height="5.7" rx="2"/><rect x="1221.41" y="590.37" width="5.7" height="5.7" rx="2"/><rect x="1218.65" y="594.51" width="5.7" height="5.7" rx="2"/><rect x="1156.10" y="598.19" width="5.7" height="5.7" rx="2"/><rect x="1164.38" y="597.73" width="5.7" height="5.7" rx="2"/><rect x="1174.50" y="598.19" width="5.7" height="5.7" rx="2"/>
<rect x="1179.10" y="599.57" width="5.7" height="5.7" rx="2"/><rect x="1188.30" y="598.19" width="5.7" height="5.7" rx="2"/><rect x="1122.53" y="602.33" width="5.7" height="5.7" rx="2"/><rect x="1128.05" y="605.55" width="5.7" height="5.7" rx="2"/><rect x="1135.41" y="602.33" width="5.7" height="5.7" rx="2"/><rect x="1126.21" y="611.99" width="5.7" height="5.7" rx="2"/><rect x="1143.22" y="609.23" width="5.7" height="5.7" rx="2"/><rect x="1162.54" y="606.47" width="5.7" height="5.7" rx="2"/>
<rect x="1166.68" y="604.63" width="5.7" height="5.7" rx="2"/><rect x="1168.52" y="609.69" width="5.7" height="5.7" rx="2"/><rect x="1178.18" y="603.71" width="5.7" height="5.7" rx="2"/><rect x="1180.48" y="605.55" width="5.7" height="5.7" rx="2"/><rect x="1195.66" y="605.55" width="5.7" height="5.7" rx="2"/><rect x="1210.84" y="602.33" width="5.7" height="5.7" rx="2"/><rect x="1210.84" y="606.93" width="5.7" height="5.7" rx="2"/><rect x="1221.87" y="603.71" width="5.7" height="5.7" rx="2"/>
<rect x="1205.32" y="611.99" width="5.7" height="5.7" rx="2"/><rect x="1202.56" y="615.21" width="5.7" height="5.7" rx="2"/><rect x="1188.30" y="612.91" width="5.7" height="5.7" rx="2"/><rect x="1188.76" y="617.05" width="5.7" height="5.7" rx="2"/><rect x="1218.19" y="615.67" width="5.7" height="5.7" rx="2"/><rect x="1150.12" y="615.21" width="5.7" height="5.7" rx="2"/><rect x="1174.04" y="617.05" width="5.7" height="5.7" rx="2"/><rect x="1150.12" y="622.11" width="5.7" height="5.7" rx="2"/>
<rect x="1179.10" y="626.70" width="5.7" height="5.7" rx="2"/><rect x="1182.78" y="624.41" width="5.7" height="5.7" rx="2"/><rect x="1213.13" y="626.70" width="5.7" height="5.7" rx="2"/><rect x="1216.81" y="625.32" width="5.7" height="5.7" rx="2"/><rect x="1219.57" y="630.38" width="5.7" height="5.7" rx="2"/><rect x="1115.17" y="629.92" width="5.7" height="5.7" rx="2"/><rect x="1127.13" y="631.30" width="5.7" height="5.7" rx="2"/><rect x="1119.31" y="635.44" width="5.7" height="5.7" rx="2"/>
<rect x="1145.52" y="632.22" width="5.7" height="5.7" rx="2"/><rect x="1151.50" y="632.68" width="5.7" height="5.7" rx="2"/><rect x="1148.74" y="637.74" width="5.7" height="5.7" rx="2"/><rect x="1169.90" y="634.06" width="5.7" height="5.7" rx="2"/><rect x="1168.52" y="637.74" width="5.7" height="5.7" rx="2"/><rect x="1175.42" y="636.36" width="5.7" height="5.7" rx="2"/><rect x="1171.74" y="642.34" width="5.7" height="5.7" rx="2"/><rect x="1178.18" y="641.42" width="5.7" height="5.7" rx="2"/>
<rect x="1182.78" y="640.04" width="5.7" height="5.7" rx="2"/><rect x="1197.96" y="636.82" width="5.7" height="5.7" rx="2"/><rect x="1213.59" y="635.90" width="5.7" height="5.7" rx="2"/><rect x="1186.92" y="644.64" width="5.7" height="5.7" rx="2"/><rect x="1192.90" y="645.56" width="5.7" height="5.7" rx="2"/><rect x="1201.18" y="645.10" width="5.7" height="5.7" rx="2"/><rect x="1220.03" y="647.40" width="5.7" height="5.7" rx="2"/><rect x="1208.08" y="650.62" width="5.7" height="5.7" rx="2"/>
<rect x="1143.22" y="651.54" width="5.7" height="5.7" rx="2"/><rect x="1151.50" y="651.54" width="5.7" height="5.7" rx="2"/><rect x="1177.72" y="652.00" width="5.7" height="5.7" rx="2"/><rect x="1163.92" y="655.22" width="5.7" height="5.7" rx="2"/><rect x="1175.42" y="656.14" width="5.7" height="5.7" rx="2"/><rect x="1183.70" y="655.22" width="5.7" height="5.7" rx="2"/><rect x="1212.21" y="655.68" width="5.7" height="5.7" rx="2"/><rect x="1191.98" y="657.98" width="5.7" height="5.7" rx="2"/>
<rect x="1197.04" y="656.14" width="5.7" height="5.7" rx="2"/><rect x="1201.18" y="657.98" width="5.7" height="5.7" rx="2"/><rect x="1123.91" y="660.74" width="5.7" height="5.7" rx="2"/><rect x="1130.81" y="663.04" width="5.7" height="5.7" rx="2"/><rect x="1117.93" y="665.34" width="5.7" height="5.7" rx="2"/><rect x="1151.96" y="660.74" width="5.7" height="5.7" rx="2"/><rect x="1163.92" y="663.04" width="5.7" height="5.7" rx="2"/><rect x="1159.78" y="665.34" width="5.7" height="5.7" rx="2"/>
<rect x="1142.76" y="667.18" width="5.7" height="5.7" rx="2"/><rect x="1175.42" y="669.48" width="5.7" height="5.7" rx="2"/><rect x="1193.82" y="664.88" width="5.7" height="5.7" rx="2"/><rect x="1218.19" y="663.04" width="5.7" height="5.7" rx="2"/><rect x="1221.87" y="667.18" width="5.7" height="5.7" rx="2"/><rect x="1118.39" y="670.86" width="5.7" height="5.7" rx="2"/><rect x="1123.45" y="672.24" width="5.7" height="5.7" rx="2"/><rect x="1131.27" y="669.48" width="5.7" height="5.7" rx="2"/>
<rect x="1134.95" y="671.32" width="5.7" height="5.7" rx="2"/><rect x="1134.95" y="675.92" width="5.7" height="5.7" rx="2"/><rect x="1145.52" y="670.40" width="5.7" height="5.7" rx="2"/><rect x="1156.10" y="671.32" width="5.7" height="5.7" rx="2"/><rect x="1159.32" y="677.30" width="5.7" height="5.7" rx="2"/><rect x="1116.09" y="677.76" width="5.7" height="5.7" rx="2"/><rect x="1112.87" y="676.84" width="5.7" height="5.7" rx="2"/><rect x="1181.40" y="676.84" width="5.7" height="5.7" rx="2"/>
<rect x="1204.40" y="675.46" width="5.7" height="5.7" rx="2"/><rect x="1210.84" y="671.32" width="5.7" height="5.7" rx="2"/><rect x="1220.49" y="677.30" width="5.7" height="5.7" rx="2"/><rect x="1130.81" y="682.36" width="5.7" height="5.7" rx="2"/><rect x="1132.19" y="686.04" width="5.7" height="5.7" rx="2"/><rect x="1135.87" y="686.04" width="5.7" height="5.7" rx="2"/><rect x="1127.59" y="689.72" width="5.7" height="5.7" rx="2"/><rect x="1178.18" y="681.90" width="5.7" height="5.7" rx="2"/>
<rect x="1182.78" y="683.74" width="5.7" height="5.7" rx="2"/><rect x="1212.21" y="685.58" width="5.7" height="5.7" rx="2"/><rect x="1221.41" y="684.66" width="5.7" height="5.7" rx="2"/><rect x="1151.50" y="688.34" width="5.7" height="5.7" rx="2"/><rect x="1155.64" y="692.02" width="5.7" height="5.7" rx="2"/><rect x="1142.30" y="693.86" width="5.7" height="5.7" rx="2"/><rect x="1148.74" y="695.24" width="5.7" height="5.7" rx="2"/><rect x="1184.62" y="692.02" width="5.7" height="5.7" rx="2"/>
<rect x="1188.76" y="692.94" width="5.7" height="5.7" rx="2"/><rect x="1189.68" y="698.00" width="5.7" height="5.7" rx="2"/><rect x="1168.06" y="693.86" width="5.7" height="5.7" rx="2"/><rect x="1166.22" y="696.62" width="5.7" height="5.7" rx="2"/><rect x="1173.58" y="696.62" width="5.7" height="5.7" rx="2"/><rect x="1209.00" y="698.46" width="5.7" height="5.7" rx="2"/><rect x="1130.81" y="698.92" width="5.7" height="5.7" rx="2"/><rect x="1119.77" y="701.67" width="5.7" height="5.7" rx="2"/>
<rect x="1162.54" y="702.13" width="5.7" height="5.7" rx="2"/><rect x="1168.52" y="701.21" width="5.7" height="5.7" rx="2"/><rect x="1114.25" y="707.19" width="5.7" height="5.7" rx="2"/><rect x="1125.29" y="706.73" width="5.7" height="5.7" rx="2"/><rect x="1138.62" y="705.35" width="5.7" height="5.7" rx="2"/><rect x="1134.95" y="707.65" width="5.7" height="5.7" rx="2"/><rect x="1161.62" y="707.19" width="5.7" height="5.7" rx="2"/><rect x="1174.50" y="707.19" width="5.7" height="5.7" rx="2"/>
<rect x="1180.02" y="707.19" width="5.7" height="5.7" rx="2"/><rect x="1199.80" y="707.19" width="5.7" height="5.7" rx="2"/><rect x="1129.89" y="721.19" width="5.7" height="5.7" rx="2"/><rect x="1116.09" y="725.33" width="5.7" height="5.7" rx="2"/><rect x="1119.31" y="731.31" width="5.7" height="5.7" rx="2"/><rect x="1122.07" y="737.29" width="5.7" height="5.7" rx="2"/><rect x="1125.01" y="741.43" width="5.7" height="5.7" rx="2"/><rect x="1211.30" y="717.05" width="5.7" height="5.7" rx="2"/>
<rect x="1205.32" y="721.19" width="5.7" height="5.7" rx="2"/><rect x="1204.40" y="729.47" width="5.7" height="5.7" rx="2"/><rect x="1203.94" y="733.61" width="5.7" height="5.7" rx="2"/><rect x="1148.74" y="732.23" width="5.7" height="5.7" rx="2"/><rect x="1177.72" y="729.47" width="5.7" height="5.7" rx="2"/><rect x="1221.87" y="732.69" width="5.7" height="5.7" rx="2"/><rect x="1167.14" y="738.21" width="5.7" height="5.7" rx="2"/><rect x="1176.16" y="740.97" width="5.7" height="5.7" rx="2"/>
<rect x="1185.08" y="741.89" width="5.7" height="5.7" rx="2"/><rect x="1205.78" y="740.51" width="5.7" height="5.7" rx="2"/><rect x="1215.89" y="740.05" width="5.7" height="5.7" rx="2"/><rect x="1214.51" y="744.65" width="5.7" height="5.7" rx="2"/><rect x="1122.25" y="750.16" width="5.7" height="5.7" rx="2"/><rect x="1198.88" y="749.70" width="5.7" height="5.7" rx="2"/><rect x="1132.65" y="757.98" width="5.7" height="5.7" rx="2"/><rect x="1123.17" y="760.28" width="5.7" height="5.7" rx="2"/>
<rect x="1171.74" y="756.60" width="5.7" height="5.7" rx="2"/><rect x="1183.24" y="760.74" width="5.7" height="5.7" rx="2"/><rect x="1189.49" y="758.90" width="5.7" height="5.7" rx="2"/><rect x="1198.42" y="759.36" width="5.7" height="5.7" rx="2"/><rect x="1220.31" y="769.02" width="5.7" height="5.7" rx="2"/><rect x="1176.80" y="769.02" width="5.7" height="5.7" rx="2"/><rect x="1174.04" y="771.32" width="5.7" height="5.7" rx="2"/><rect x="1122.53" y="773.16" width="5.7" height="5.7" rx="2"/>
<rect x="1164.38" y="773.62" width="5.7" height="5.7" rx="2"/><rect x="1167.60" y="775.92" width="5.7" height="5.7" rx="2"/><rect x="1182.78" y="778.04" width="5.7" height="5.7" rx="2"/><rect x="1195.20" y="778.04" width="5.7" height="5.7" rx="2"/><rect x="1124.83" y="783.00" width="5.7" height="5.7" rx="2"/><rect x="1198.69" y="784.20" width="5.7" height="5.7" rx="2"/><rect x="1019.02" y="344.37" width="5.7" height="5.7" rx="2"/><rect x="1036.50" y="348.05" width="5.7" height="5.7" rx="2"/>
<rect x="1060.42" y="354.49" width="5.7" height="5.7" rx="2"/><rect x="995.11" y="360.93" width="5.7" height="5.7" rx="2"/><rect x="995.11" y="366.91" width="5.7" height="5.7" rx="2"/><rect x="1053.06" y="371.05" width="5.7" height="5.7" rx="2"/><rect x="1071.00" y="369.21" width="5.7" height="5.7" rx="2"/><rect x="1044.32" y="374.27" width="5.7" height="5.7" rx="2"/><rect x="1047.08" y="377.03" width="5.7" height="5.7" rx="2"/><rect x="1068.24" y="377.49" width="5.7" height="5.7" rx="2"/>
<rect x="997.13" y="380.52" width="5.7" height="5.7" rx="2"/><rect x="1030.52" y="380.70" width="5.7" height="5.7" rx="2"/><rect x="1036.50" y="380.52" width="5.7" height="5.7" rx="2"/><rect x="1052.14" y="382.36" width="5.7" height="5.7" rx="2"/><rect x="1012.12" y="384.84" width="5.7" height="5.7" rx="2"/><rect x="1061.80" y="385.76" width="5.7" height="5.7" rx="2"/><rect x="1065.94" y="388.98" width="5.7" height="5.7" rx="2"/><rect x="1072.84" y="390.18" width="5.7" height="5.7" rx="2"/>
<rect x="1045.70" y="389.90" width="5.7" height="5.7" rx="2"/><rect x="998.78" y="391.74" width="5.7" height="5.7" rx="2"/><rect x="1082.95" y="395.61" width="5.7" height="5.7" rx="2"/><rect x="983.61" y="397.45" width="5.7" height="5.7" rx="2"/><rect x="988.67" y="397.72" width="5.7" height="5.7" rx="2"/><rect x="993.73" y="397.26" width="5.7" height="5.7" rx="2"/><rect x="1065.94" y="398.64" width="5.7" height="5.7" rx="2"/><rect x="1066.86" y="403.70" width="5.7" height="5.7" rx="2"/>
<rect x="1068.24" y="406.92" width="5.7" height="5.7" rx="2"/><rect x="1062.26" y="409.22" width="5.7" height="5.7" rx="2"/><rect x="1019.94" y="401.40" width="5.7" height="5.7" rx="2"/><rect x="1019.94" y="406.00" width="5.7" height="5.7" rx="2"/><rect x="1010.74" y="407.38" width="5.7" height="5.7" rx="2"/><rect x="1015.34" y="407.57" width="5.7" height="5.7" rx="2"/><rect x="1028.22" y="404.62" width="5.7" height="5.7" rx="2"/><rect x="1030.98" y="408.76" width="5.7" height="5.7" rx="2"/>
<rect x="1035.12" y="406.92" width="5.7" height="5.7" rx="2"/><rect x="1042.02" y="406.28" width="5.7" height="5.7" rx="2"/><rect x="979.47" y="410.60" width="5.7" height="5.7" rx="2"/><rect x="976.25" y="414.74" width="5.7" height="5.7" rx="2"/><rect x="992.07" y="415.20" width="5.7" height="5.7" rx="2"/><rect x="1070.08" y="414.74" width="5.7" height="5.7" rx="2"/><rect x="1023.81" y="416.58" width="5.7" height="5.7" rx="2"/><rect x="1012.58" y="419.34" width="5.7" height="5.7" rx="2"/>
<rect x="1017.64" y="421.18" width="5.7" height="5.7" rx="2"/><rect x="1024.08" y="423.48" width="5.7" height="5.7" rx="2"/><rect x="1046.62" y="419.80" width="5.7" height="5.7" rx="2"/><rect x="979.47" y="423.02" width="5.7" height="5.7" rx="2"/><rect x="1052.14" y="425.32" width="5.7" height="5.7" rx="2"/><rect x="1068.24" y="425.32" width="5.7" height="5.7" rx="2"/><rect x="999.70" y="428.54" width="5.7" height="5.7" rx="2"/><rect x="998.32" y="433.60" width="5.7" height="5.7" rx="2"/>
<rect x="1007.25" y="432.03" width="5.7" height="5.7" rx="2"/><rect x="1019.94" y="432.22" width="5.7" height="5.7" rx="2"/><rect x="1028.22" y="434.06" width="5.7" height="5.7" rx="2"/><rect x="1045.70" y="432.22" width="5.7" height="5.7" rx="2"/><rect x="1050.30" y="431.30" width="5.7" height="5.7" rx="2"/><rect x="1054.90" y="432.22" width="5.7" height="5.7" rx="2"/><rect x="1071.92" y="432.22" width="5.7" height="5.7" rx="2"/><rect x="979.01" y="436.82" width="5.7" height="5.7" rx="2"/>
<rect x="1078.35" y="437.74" width="5.7" height="5.7" rx="2"/><rect x="1059.04" y="440.04" width="5.7" height="5.7" rx="2"/><rect x="1082.49" y="441.88" width="5.7" height="5.7" rx="2"/><rect x="1045.70" y="443.72" width="5.7" height="5.7" rx="2"/><rect x="1013.96" y="443.72" width="5.7" height="5.7" rx="2"/><rect x="1005.68" y="446.02" width="5.7" height="5.7" rx="2"/><rect x="1067.78" y="446.48" width="5.7" height="5.7" rx="2"/><rect x="1068.24" y="450.62" width="5.7" height="5.7" rx="2"/>
<rect x="1079.73" y="446.02" width="5.7" height="5.7" rx="2"/><rect x="978.55" y="448.32" width="5.7" height="5.7" rx="2"/><rect x="984.07" y="451.08" width="5.7" height="5.7" rx="2"/><rect x="989.13" y="450.16" width="5.7" height="5.7" rx="2"/><rect x="994.19" y="452.00" width="5.7" height="5.7" rx="2"/><rect x="1006.14" y="450.16" width="5.7" height="5.7" rx="2"/><rect x="1009.82" y="450.62" width="5.7" height="5.7" rx="2"/><rect x="1017.18" y="448.32" width="5.7" height="5.7" rx="2"/>
<rect x="1022.70" y="452.46" width="5.7" height="5.7" rx="2"/><rect x="1026.38" y="451.08" width="5.7" height="5.7" rx="2"/><rect x="1031.44" y="451.54" width="5.7" height="5.7" rx="2"/><rect x="1037.42" y="452.92" width="5.7" height="5.7" rx="2"/><rect x="1076.05" y="450.16" width="5.7" height="5.7" rx="2"/><rect x="1074.21" y="453.84" width="5.7" height="5.7" rx="2"/><rect x="1009.82" y="457.05" width="5.7" height="5.7" rx="2"/><rect x="1039.26" y="457.05" width="5.7" height="5.7" rx="2"/>
<rect x="1076.97" y="457.51" width="5.7" height="5.7" rx="2"/><rect x="975.33" y="461.19" width="5.7" height="5.7" rx="2"/><rect x="1038.34" y="461.19" width="5.7" height="5.7" rx="2"/><rect x="1075.13" y="461.19" width="5.7" height="5.7" rx="2"/><rect x="1021.78" y="462.57" width="5.7" height="5.7" rx="2"/><rect x="1051.22" y="463.03" width="5.7" height="5.7" rx="2"/><rect x="1011.20" y="467.37" width="5.7" height="5.7" rx="2"/><rect x="1016.26" y="469.21" width="5.7" height="5.7" rx="2"/>
<rect x="1023.62" y="465.53" width="5.7" height="5.7" rx="2"/><rect x="1019.02" y="471.05" width="5.7" height="5.7" rx="2"/><rect x="1034.66" y="470.59" width="5.7" height="5.7" rx="2"/><rect x="1075.59" y="470.59" width="5.7" height="5.7" rx="2"/><rect x="1084.79" y="469.67" width="5.7" height="5.7" rx="2"/><rect x="985.45" y="471.05" width="5.7" height="5.7" rx="2"/><rect x="986.83" y="475.19" width="5.7" height="5.7" rx="2"/><rect x="1002.92" y="474.27" width="5.7" height="5.7" rx="2"/>
<rect x="975.33" y="464.15" width="5.7" height="5.7" rx="2"/><rect x="989.13" y="479.79" width="5.7" height="5.7" rx="2"/><rect x="995.11" y="480.71" width="5.7" height="5.7" rx="2"/><rect x="990.97" y="486.23" width="5.7" height="5.7" rx="2"/><rect x="996.95" y="486.23" width="5.7" height="5.7" rx="2"/><rect x="979.01" y="487.15" width="5.7" height="5.7" rx="2"/><rect x="1007.06" y="483.93" width="5.7" height="5.7" rx="2"/><rect x="1030.06" y="477.95" width="5.7" height="5.7" rx="2"/>
<rect x="1023.62" y="486.23" width="5.7" height="5.7" rx="2"/><rect x="1035.58" y="484.85" width="5.7" height="5.7" rx="2"/><rect x="1051.22" y="484.85" width="5.7" height="5.7" rx="2"/><rect x="1062.26" y="479.79" width="5.7" height="5.7" rx="2"/><rect x="1066.40" y="479.33" width="5.7" height="5.7" rx="2"/><rect x="1063.18" y="485.77" width="5.7" height="5.7" rx="2"/><rect x="1075.59" y="480.71" width="5.7" height="5.7" rx="2"/><rect x="1075.13" y="475.19" width="5.7" height="5.7" rx="2"/>
<rect x="1065.48" y="487.61" width="5.7" height="5.7" rx="2"/><rect x="1013.50" y="488.07" width="5.7" height="5.7" rx="2"/><rect x="1012.58" y="491.75" width="5.7" height="5.7" rx="2"/><rect x="1022.70" y="489.91" width="5.7" height="5.7" rx="2"/><rect x="1003.84" y="494.97" width="5.7" height="5.7" rx="2"/><rect x="1018.56" y="495.89" width="5.7" height="5.7" rx="2"/><rect x="1030.98" y="493.59" width="5.7" height="5.7" rx="2"/><rect x="1033.74" y="497.73" width="5.7" height="5.7" rx="2"/>
<rect x="1040.18" y="495.89" width="5.7" height="5.7" rx="2"/><rect x="1053.06" y="491.75" width="5.7" height="5.7" rx="2"/><rect x="1054.90" y="496.35" width="5.7" height="5.7" rx="2"/><rect x="1055.36" y="502.32" width="5.7" height="5.7" rx="2"/><rect x="1076.97" y="490.37" width="5.7" height="5.7" rx="2"/><rect x="1068.24" y="497.73" width="5.7" height="5.7" rx="2"/><rect x="1077.43" y="500.49" width="5.7" height="5.7" rx="2"/><rect x="1043.40" y="501.87" width="5.7" height="5.7" rx="2"/>
<rect x="1023.16" y="501.87" width="5.7" height="5.7" rx="2"/><rect x="987.75" y="500.49" width="5.7" height="5.7" rx="2"/><rect x="996.03" y="501.87" width="5.7" height="5.7" rx="2"/><rect x="1030.06" y="503.70" width="5.7" height="5.7" rx="2"/><rect x="984.99" y="506.00" width="5.7" height="5.7" rx="2"/><rect x="987.75" y="507.38" width="5.7" height="5.7" rx="2"/><rect x="996.95" y="509.22" width="5.7" height="5.7" rx="2"/><rect x="1009.82" y="507.38" width="5.7" height="5.7" rx="2"/>
<rect x="1007.06" y="511.06" width="5.7" height="5.7" rx="2"/><rect x="978.09" y="511.06" width="5.7" height="5.7" rx="2"/><rect x="979.47" y="514.74" width="5.7" height="5.7" rx="2"/><rect x="989.13" y="514.74" width="5.7" height="5.7" rx="2"/><rect x="1003.38" y="518.42" width="5.7" height="5.7" rx="2"/><rect x="1016.26" y="514.74" width="5.7" height="5.7" rx="2"/><rect x="1020.86" y="517.04" width="5.7" height="5.7" rx="2"/><rect x="1026.38" y="511.06" width="5.7" height="5.7" rx="2"/>
<rect x="1031.90" y="511.06" width="5.7" height="5.7" rx="2"/><rect x="1030.06" y="515.20" width="5.7" height="5.7" rx="2"/><rect x="1051.22" y="511.98" width="5.7" height="5.7" rx="2"/><rect x="1070.08" y="506.92" width="5.7" height="5.7" rx="2"/><rect x="1078.81" y="504.62" width="5.7" height="5.7" rx="2"/><rect x="1079.73" y="509.22" width="5.7" height="5.7" rx="2"/><rect x="1079.27" y="513.36" width="5.7" height="5.7" rx="2"/><rect x="1073.76" y="512.90" width="5.7" height="5.7" rx="2"/>
<rect x="1067.78" y="512.90" width="5.7" height="5.7" rx="2"/><rect x="1062.72" y="512.44" width="5.7" height="5.7" rx="2"/><rect x="1061.34" y="517.50" width="5.7" height="5.7" rx="2"/><rect x="975.79" y="522.56" width="5.7" height="5.7" rx="2"/><rect x="992.81" y="520.72" width="5.7" height="5.7" rx="2"/><rect x="995.57" y="525.32" width="5.7" height="5.7" rx="2"/><rect x="1008.90" y="523.94" width="5.7" height="5.7" rx="2"/><rect x="1008.44" y="527.62" width="5.7" height="5.7" rx="2"/>
<rect x="1024.08" y="522.56" width="5.7" height="5.7" rx="2"/><rect x="1031.44" y="527.62" width="5.7" height="5.7" rx="2"/><rect x="1044.78" y="523.02" width="5.7" height="5.7" rx="2"/><rect x="1059.04" y="521.64" width="5.7" height="5.7" rx="2"/><rect x="1071.46" y="525.32" width="5.7" height="5.7" rx="2"/><rect x="1084.79" y="524.86" width="5.7" height="5.7" rx="2"/><rect x="1085.25" y="529.00" width="5.7" height="5.7" rx="2"/><rect x="1049.38" y="529.92" width="5.7" height="5.7" rx="2"/>
<rect x="1024.54" y="529.46" width="5.7" height="5.7" rx="2"/><rect x="993.73" y="528.54" width="5.7" height="5.7" rx="2"/><rect x="975.33" y="716.93" width="5.7" height="5.7" rx="2"/><rect x="980.85" y="718.77" width="5.7" height="5.7" rx="2"/><rect x="985.91" y="719.23" width="5.7" height="5.7" rx="2"/><rect x="977.63" y="723.37" width="5.7" height="5.7" rx="2"/><rect x="995.11" y="721.53" width="5.7" height="5.7" rx="2"/><rect x="994.65" y="724.75" width="5.7" height="5.7" rx="2"/>
<rect x="1004.30" y="717.39" width="5.7" height="5.7" rx="2"/><rect x="1009.82" y="716.93" width="5.7" height="5.7" rx="2"/><rect x="1006.14" y="721.99" width="5.7" height="5.7" rx="2"/><rect x="1016.26" y="721.99" width="5.7" height="5.7" rx="2"/><rect x="1022.24" y="726.59" width="5.7" height="5.7" rx="2"/><rect x="1030.06" y="722.91" width="5.7" height="5.7" rx="2"/><rect x="1033.74" y="724.29" width="5.7" height="5.7" rx="2"/><rect x="1032.36" y="727.51" width="5.7" height="5.7" rx="2"/>
<rect x="1052.14" y="716.47" width="5.7" height="5.7" rx="2"/><rect x="1055.82" y="719.69" width="5.7" height="5.7" rx="2"/><rect x="1053.06" y="723.83" width="5.7" height="5.7" rx="2"/><rect x="1049.84" y="725.67" width="5.7" height="5.7" rx="2"/><rect x="1064.10" y="717.85" width="5.7" height="5.7" rx="2"/><rect x="1064.10" y="723.37" width="5.7" height="5.7" rx="2"/><rect x="1076.05" y="717.85" width="5.7" height="5.7" rx="2"/><rect x="1076.05" y="721.07" width="5.7" height="5.7" rx="2"/>
<rect x="1082.49" y="720.15" width="5.7" height="5.7" rx="2"/><rect x="1085.71" y="726.13" width="5.7" height="5.7" rx="2"/><rect x="1078.35" y="728.89" width="5.7" height="5.7" rx="2"/><rect x="976.71" y="733.49" width="5.7" height="5.7" rx="2"/><rect x="973.95" y="736.24" width="5.7" height="5.7" rx="2"/><rect x="985.45" y="733.03" width="5.7" height="5.7" rx="2"/><rect x="994.19" y="731.19" width="5.7" height="5.7" rx="2"/><rect x="1008.44" y="729.35" width="5.7" height="5.7" rx="2"/>
<rect x="998.78" y="738.08" width="5.7" height="5.7" rx="2"/><rect x="1030.06" y="732.57" width="5.7" height="5.7" rx="2"/><rect x="1030.06" y="737.62" width="5.7" height="5.7" rx="2"/><rect x="1036.50" y="739.92" width="5.7" height="5.7" rx="2"/><rect x="1042.02" y="731.65" width="5.7" height="5.7" rx="2"/><rect x="1047.54" y="734.41" width="5.7" height="5.7" rx="2"/><rect x="1055.82" y="732.57" width="5.7" height="5.7" rx="2"/><rect x="1057.66" y="735.78" width="5.7" height="5.7" rx="2"/>
<rect x="1061.34" y="737.62" width="5.7" height="5.7" rx="2"/><rect x="1065.94" y="738.54" width="5.7" height="5.7" rx="2"/><rect x="1046.62" y="739.46" width="5.7" height="5.7" rx="2"/><rect x="1076.97" y="733.03" width="5.7" height="5.7" rx="2"/><rect x="1063.18" y="743.14" width="5.7" height="5.7" rx="2"/><rect x="991.89" y="742.22" width="5.7" height="5.7" rx="2"/><rect x="976.71" y="745.90" width="5.7" height="5.7" rx="2"/><rect x="977.17" y="751.42" width="5.7" height="5.7" rx="2"/>
<rect x="992.81" y="748.20" width="5.7" height="5.7" rx="2"/><rect x="1000.62" y="745.90" width="5.7" height="5.7" rx="2"/><rect x="1009.36" y="744.52" width="5.7" height="5.7" rx="2"/><rect x="1005.68" y="752.80" width="5.7" height="5.7" rx="2"/><rect x="1016.72" y="750.50" width="5.7" height="5.7" rx="2"/><rect x="1022.24" y="752.80" width="5.7" height="5.7" rx="2"/><rect x="1029.14" y="748.20" width="5.7" height="5.7" rx="2"/><rect x="1043.40" y="752.80" width="5.7" height="5.7" rx="2"/>
<rect x="1048.00" y="744.06" width="5.7" height="5.7" rx="2"/><rect x="1048.92" y="748.66" width="5.7" height="5.7" rx="2"/><rect x="1080.19" y="744.06" width="5.7" height="5.7" rx="2"/><rect x="1083.87" y="746.36" width="5.7" height="5.7" rx="2"/><rect x="1083.87" y="752.80" width="5.7" height="5.7" rx="2"/><rect x="982.69" y="755.10" width="5.7" height="5.7" rx="2"/><rect x="990.97" y="757.40" width="5.7" height="5.7" rx="2"/><rect x="1065.48" y="756.02" width="5.7" height="5.7" rx="2"/>
<rect x="1064.10" y="759.24" width="5.7" height="5.7" rx="2"/><rect x="1018.10" y="759.24" width="5.7" height="5.7" rx="2"/><rect x="1027.76" y="759.70" width="5.7" height="5.7" rx="2"/><rect x="1022.70" y="764.30" width="5.7" height="5.7" rx="2"/><rect x="1028.68" y="767.06" width="5.7" height="5.7" rx="2"/><rect x="1046.16" y="759.70" width="5.7" height="5.7" rx="2"/><rect x="1043.86" y="763.38" width="5.7" height="5.7" rx="2"/><rect x="1047.08" y="766.14" width="5.7" height="5.7" rx="2"/>
<rect x="1055.82" y="760.62" width="5.7" height="5.7" rx="2"/><rect x="1059.50" y="760.16" width="5.7" height="5.7" rx="2"/><rect x="1072.84" y="763.38" width="5.7" height="5.7" rx="2"/><rect x="1067.32" y="767.98" width="5.7" height="5.7" rx="2"/><rect x="986.37" y="763.38" width="5.7" height="5.7" rx="2"/><rect x="984.53" y="768.90" width="5.7" height="5.7" rx="2"/><rect x="995.57" y="765.22" width="5.7" height="5.7" rx="2"/><rect x="997.41" y="767.06" width="5.7" height="5.7" rx="2"/>
<rect x="1007.06" y="765.22" width="5.7" height="5.7" rx="2"/><rect x="1017.18" y="769.36" width="5.7" height="5.7" rx="2"/><rect x="1051.68" y="771.66" width="5.7" height="5.7" rx="2"/><rect x="978.09" y="777.18" width="5.7" height="5.7" rx="2"/><rect x="991.43" y="773.96" width="5.7" height="5.7" rx="2"/><rect x="993.73" y="779.02" width="5.7" height="5.7" rx="2"/><rect x="1003.38" y="773.50" width="5.7" height="5.7" rx="2"/><rect x="1011.20" y="773.50" width="5.7" height="5.7" rx="2"/>
<rect x="1010.74" y="777.18" width="5.7" height="5.7" rx="2"/><rect x="1009.82" y="781.78" width="5.7" height="5.7" rx="2"/><rect x="1021.78" y="778.56" width="5.7" height="5.7" rx="2"/><rect x="1036.04" y="774.42" width="5.7" height="5.7" rx="2"/><rect x="1036.50" y="778.10" width="5.7" height="5.7" rx="2"/><rect x="1042.94" y="778.10" width="5.7" height="5.7" rx="2"/><rect x="1045.24" y="780.86" width="5.7" height="5.7" rx="2"/><rect x="1052.14" y="775.34" width="5.7" height="5.7" rx="2"/>
<rect x="1053.06" y="779.94" width="5.7" height="5.7" rx="2"/><rect x="1050.76" y="783.62" width="5.7" height="5.7" rx="2"/><rect x="1079.27" y="773.50" width="5.7" height="5.7" rx="2"/><rect x="1077.89" y="778.10" width="5.7" height="5.7" rx="2"/><rect x="1002.92" y="785.92" width="5.7" height="5.7" rx="2"/>
</g>
<g fill="none" stroke-width="3.2">
<line x1="121.9" x2="121.9" y1="83.4" y2="1204.0" stroke="#A4A4A4" stroke-width="3.5"/>
<line x1="1253.8" x2="1253.8" y1="83.4" y2="1204.0" stroke="#9A9A9A"/>
<line x1="120.60000000000001" x2="1255.3999999999999" y1="85.0" y2="85.0" stroke="#A8A8A8"/>
<line x1="120.60000000000001" x2="1255.3999999999999" y1="1202.4" y2="1202.4" stroke="#6E6E6E"/>
</g>
<g stroke="#444" stroke-width="2.8">
<line x1="113.3" x2="120.8" y1="344.4" y2="344.4"/>
<line x1="113.3" x2="120.8" y1="637.9" y2="637.9"/>
<line x1="113.3" x2="120.8" y1="931.4" y2="931.4"/>
<line x1="203.5" x2="203.5" y1="1203.8000000000002" y2="1211.5"/>
<line x1="342.1" x2="342.1" y1="1203.8000000000002" y2="1211.5"/>
<line x1="480.4" x2="480.4" y1="1203.8000000000002" y2="1211.5"/>
<line x1="618.4" x2="618.4" y1="1203.8000000000002" y2="1211.5"/>
<line x1="756.9" x2="756.9" y1="1203.8000000000002" y2="1211.5"/>
<line x1="895.6" x2="895.6" y1="1203.8000000000002" y2="1211.5"/>
<line x1="1033.3" x2="1033.3" y1="1203.8000000000002" y2="1211.5"/>
<line x1="1171.6" x2="1171.6" y1="1203.8000000000002" y2="1211.5"/>
</g>
<g font-size="25.8" fill="#5F5F5F" text-anchor="end">
<text x="106.3" y="353.1" textLength="13.6" lengthAdjust="spacingAndGlyphs">2</text>
<text x="106.3" y="646.6" textLength="13.6" lengthAdjust="spacingAndGlyphs">0</text>
<text x="106.3" y="940.1" textLength="21.7" lengthAdjust="spacingAndGlyphs">-2</text>
</g>
<g font-size="25.8" fill="#5F5F5F" text-anchor="end">
<text transform="translate(216.1,1229.4) rotate(-45)" textLength="142.2" lengthAdjust="spacingAndGlyphs">U.Paleolithic</text>
<text transform="translate(354.7,1229.4) rotate(-45)" textLength="98.2" lengthAdjust="spacingAndGlyphs">Neolithic</text>
<text transform="translate(493.0,1229.4) rotate(-45)" textLength="131.7" lengthAdjust="spacingAndGlyphs">Copper Age</text>
<text transform="translate(631.0,1229.4) rotate(-45)" textLength="121.5" lengthAdjust="spacingAndGlyphs">BronzeAge</text>
<text transform="translate(769.5,1229.4) rotate(-45)" textLength="85.6" lengthAdjust="spacingAndGlyphs">IronAge</text>
<text transform="translate(908.2,1229.4) rotate(-45)" textLength="90.3" lengthAdjust="spacingAndGlyphs">Imperial</text>
<text transform="translate(1045.9,1229.4) rotate(-45)" textLength="100.8" lengthAdjust="spacingAndGlyphs">Medieval</text>
<text transform="translate(1184.2,1229.4) rotate(-45)" textLength="104.3" lengthAdjust="spacingAndGlyphs">1KG.EUR</text>
</g>
<text transform="translate(67.9,644.1) rotate(-90)" font-size="33" fill="#000" text-anchor="middle" textLength="63.6" lengthAdjust="spacingAndGlyphs">PGS</text>
<text x="1300.5" y="455.6" font-size="31.6" fill="#000" textLength="98" lengthAdjust="spacingAndGlyphs">Culture</text>
<g stroke="#3A3A3A" stroke-width="2.9">
<line x1="1324.0" x2="1324.0" y1="479.0" y2="486.6"/>
<line x1="1324.0" x2="1324.0" y1="510.6" y2="518.2"/>
<rect x="1305.7" y="486.6" width="36.6" height="24" fill="#440154" fill-opacity="0.6"/>
<line x1="1305.7" x2="1342.3" y1="498.6" y2="498.6" stroke-width="2.9"/>
<circle cx="1324.0" cy="498.6" r="2.95" fill="#000" stroke="none"/>
</g>
<text x="1363.4" y="507.7" font-size="25.8" fill="#000" textLength="142.2" lengthAdjust="spacingAndGlyphs">U.Paleolithic</text>
<g stroke="#3A3A3A" stroke-width="2.9">
<line x1="1324.0" x2="1324.0" y1="527.1" y2="534.7"/>
<line x1="1324.0" x2="1324.0" y1="558.7" y2="566.3"/>
<rect x="1305.7" y="534.7" width="36.6" height="24" fill="#46337E" fill-opacity="0.6"/>
<line x1="1305.7" x2="1342.3" y1="546.7" y2="546.7" stroke-width="2.9"/>
<circle cx="1324.0" cy="546.7" r="2.95" fill="#000" stroke="none"/>
</g>
<text x="1363.4" y="555.8" font-size="25.8" fill="#000" textLength="98.2" lengthAdjust="spacingAndGlyphs">Neolithic</text>
<g stroke="#3A3A3A" stroke-width="2.9">
<line x1="1324.0" x2="1324.0" y1="575.2" y2="582.8"/>
<line x1="1324.0" x2="1324.0" y1="606.8" y2="614.4"/>
<rect x="1305.7" y="582.8" width="36.6" height="24" fill="#365C8D" fill-opacity="0.6"/>
<line x1="1305.7" x2="1342.3" y1="594.8" y2="594.8" stroke-width="2.9"/>
<circle cx="1324.0" cy="594.8" r="2.95" fill="#000" stroke="none"/>
</g>
<text x="1363.4" y="603.9" font-size="25.8" fill="#000" textLength="131.7" lengthAdjust="spacingAndGlyphs">Copper Age</text>
<g stroke="#3A3A3A" stroke-width="2.9">
<line x1="1324.0" x2="1324.0" y1="623.3" y2="630.9"/>
<line x1="1324.0" x2="1324.0" y1="654.9" y2="662.5"/>
<rect x="1305.7" y="630.9" width="36.6" height="24" fill="#277F8E" fill-opacity="0.6"/>
<line x1="1305.7" x2="1342.3" y1="642.9" y2="642.9" stroke-width="2.9"/>
<circle cx="1324.0" cy="642.9" r="2.95" fill="#000" stroke="none"/>
</g>
<text x="1363.4" y="652.0" font-size="25.8" fill="#000" textLength="121.5" lengthAdjust="spacingAndGlyphs">BronzeAge</text>
<g stroke="#3A3A3A" stroke-width="2.9">
<line x1="1324.0" x2="1324.0" y1="671.4" y2="679.0"/>
<line x1="1324.0" x2="1324.0" y1="703.0" y2="710.6"/>
<rect x="1305.7" y="679.0" width="36.6" height="24" fill="#1FA187" fill-opacity="0.6"/>
<line x1="1305.7" x2="1342.3" y1="691.0" y2="691.0" stroke-width="2.9"/>
<circle cx="1324.0" cy="691.0" r="2.95" fill="#000" stroke="none"/>
</g>
<text x="1363.4" y="700.1" font-size="25.8" fill="#000" textLength="85.6" lengthAdjust="spacingAndGlyphs">IronAge</text>
<g stroke="#3A3A3A" stroke-width="2.9">
<line x1="1324.0" x2="1324.0" y1="719.5" y2="727.1"/>
<line x1="1324.0" x2="1324.0" y1="751.1" y2="758.7"/>
<rect x="1305.7" y="727.1" width="36.6" height="24" fill="#4AC16D" fill-opacity="0.6"/>
<line x1="1305.7" x2="1342.3" y1="739.1" y2="739.1" stroke-width="2.9"/>
<circle cx="1324.0" cy="739.1" r="2.95" fill="#000" stroke="none"/>
</g>
<text x="1363.4" y="748.2" font-size="25.8" fill="#000" textLength="90.3" lengthAdjust="spacingAndGlyphs">Imperial</text>
<g stroke="#3A3A3A" stroke-width="2.9">
<line x1="1324.0" x2="1324.0" y1="767.6" y2="775.2"/>
<line x1="1324.0" x2="1324.0" y1="799.2" y2="806.8"/>
<rect x="1305.7" y="775.2" width="36.6" height="24" fill="#9FDA3A" fill-opacity="0.6"/>
<line x1="1305.7" x2="1342.3" y1="787.2" y2="787.2" stroke-width="2.9"/>
<circle cx="1324.0" cy="787.2" r="2.95" fill="#000" stroke="none"/>
</g>
<text x="1363.4" y="796.3" font-size="25.8" fill="#000" textLength="100.8" lengthAdjust="spacingAndGlyphs">Medieval</text>
<g stroke="#3A3A3A" stroke-width="2.9">
<line x1="1324.0" x2="1324.0" y1="815.7" y2="823.3"/>
<line x1="1324.0" x2="1324.0" y1="847.3" y2="854.9"/>
<rect x="1305.7" y="823.3" width="36.6" height="24" fill="#FDE725" fill-opacity="0.6"/>
<line x1="1305.7" x2="1342.3" y1="835.3" y2="835.3" stroke-width="2.9"/>
<circle cx="1324.0" cy="835.3" r="2.95" fill="#000" stroke="none"/>
</g>
<text x="1363.4" y="844.4" font-size="25.8" fill="#000" textLength="104.3" lengthAdjust="spacingAndGlyphs">1KG.EUR</text>
</svg>
</body></html>
